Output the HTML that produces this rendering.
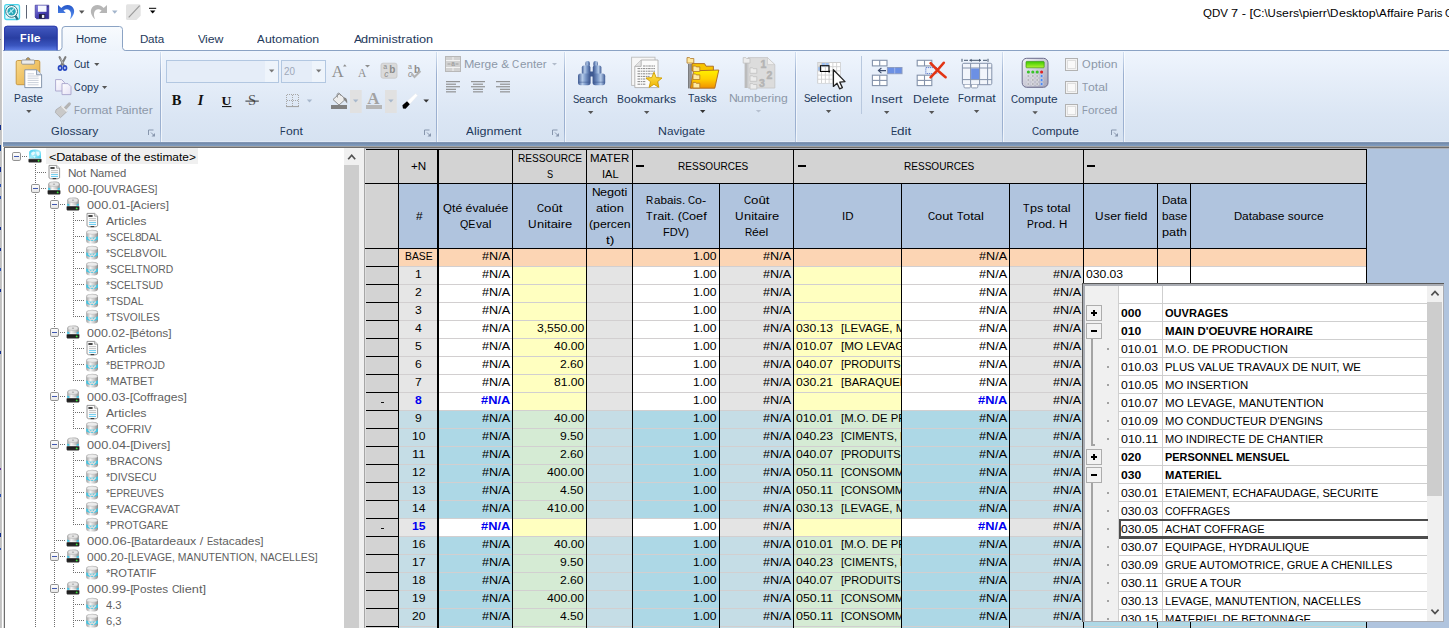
<!DOCTYPE html><html><head><meta charset="utf-8"><title>QDV 7</title><style>
*{box-sizing:border-box;margin:0;padding:0}
html,body{width:1449px;height:628px;overflow:hidden;background:#fff}
body{font-family:"Liberation Sans",sans-serif;position:relative;color:#1e395b}
.a{position:absolute}
.t{position:absolute;white-space:pre;line-height:1;font-size:11.7px;color:#1e395b}
i{position:absolute;top:0;font-style:normal;transform-origin:0 50%;white-space:pre}
.g{display:inline-block;position:relative;vertical-align:top;text-align:left}
.dis{color:#8d98a8}
.c{position:absolute;overflow:hidden;white-space:pre;font-size:11.7px;color:#000;line-height:16px;height:18px}
.r{text-align:right;padding-right:2.1px}
.l{text-align:left;padding-left:3.2px}
.m{text-align:center;padding-left:1px}
.hb,.hg{position:absolute;color:#000;font-size:11.7px;text-align:center;line-height:16px;display:flex;flex-direction:column;align-items:center;justify-content:center;white-space:nowrap;padding-left:1.8px}
.hb{background:#b0c4de}.hg{background:#d3d3d3}
.vl{position:absolute;background:#000;width:1px}
.hl{position:absolute;background:#000;height:1px}
.bb{font-weight:bold;color:#0000f0}
.pc{position:absolute;white-space:pre;font-size:11.7px;line-height:18px;height:18px;color:#000;overflow:hidden}
</style></head><body>
<div class="a" style="left:0;top:0;width:1.8px;height:628px;background:linear-gradient(90deg,#c0c0c0,#cacaca)"></div>
<div class="a" style="left:0;top:38.5px;width:1.1px;height:1.2px;background:#8c8c8c"></div>
<div class="a" style="left:0;top:125px;width:1.1px;height:5px;background:#102c8c"></div>
<div class="a" style="left:0;top:144.5px;width:1.1px;height:6px;background:#0c3c8c"></div>
<div class="a" style="left:0;top:166.5px;width:1.1px;height:5px;background:#102c8c"></div>
<div class="a" style="left:0;top:184px;width:1.1px;height:3px;background:#2a50b0"></div>
<div class="a" style="left:0;top:196px;width:1.1px;height:3px;background:#2a50b0"></div>
<div class="a" style="left:0;top:227px;width:1.1px;height:3px;background:#102c8c"></div>
<div class="a" style="left:0;top:248px;width:1.1px;height:3px;background:#102c8c"></div>
<div class="a" style="left:0;top:268px;width:1.1px;height:3px;background:#2a50b0"></div>
<div class="a" style="left:0;top:289px;width:1.1px;height:3px;background:#102c8c"></div>
<div class="a" style="left:0;top:351px;width:1.1px;height:3px;background:#102c8c"></div>
<div class="a" style="left:0;top:468px;width:1.1px;height:2px;background:#6030a0"></div>
<div class="a" style="left:0;top:494px;width:1.1px;height:3px;background:#2a50b0"></div>
<div class="a" style="left:0;top:533px;width:1.1px;height:4px;background:#102c8c"></div>
<div class="a" style="left:0;top:548px;width:1.1px;height:2px;background:#2a50b0"></div>
<div class="t " style="left:1203.0px;top:6.8px;color:#000"><i style="left:0.00px;transform:scaleX(0.986)">QDV </i><i style="left:28.20px;transform:scaleX(1.093)">7 - [</i><i style="left:50.22px;transform:scaleX(0.976)">C:\U</i><i style="left:73.06px;transform:scaleX(1.045)">sers\pierr\</i><i style="left:127.39px;transform:scaleX(0.996)">D</i><i style="left:135.80px;transform:scaleX(1.062)">esktop\</i><i style="left:175.85px;transform:scaleX(0.992)">A</i><i style="left:183.59px;transform:scaleX(1.042)">ffaire </i><i style="left:213.85px;transform:scaleX(0.861)">P</i><i style="left:220.57px;transform:scaleX(0.976)">aris </i><i style="left:242.14px;transform:scaleX(0.879)">C</i></div>
<div class="a" style="left:3px;top:50px;width:1446px;height:1px;background:#8ba3c4"></div>
<svg class="a" style="left:0;top:20px" width="140" height="34" viewBox="0 20 140 34"><defs>
<linearGradient id="gfile" x1="0" y1="0" x2="0" y2="1"><stop offset="0" stop-color="#5067cc"/><stop offset=".12" stop-color="#3d53ba"/><stop offset=".5" stop-color="#293ea2"/><stop offset=".8" stop-color="#3a55bf"/><stop offset="1" stop-color="#5d7ce6"/></linearGradient>
<linearGradient id="ghome" x1="0" y1="0" x2="0" y2="1"><stop offset="0" stop-color="#f8fbfe"/><stop offset="1" stop-color="#edf3fb"/></linearGradient></defs>
<path d="M4,50.3V29Q4,25.8 7.2,25.8H54.4Q57.6,25.8 57.6,29V50.3z" fill="url(#gfile)"/><path d="M4.5,50.3V29Q4.5,26.3 7.3,26.3H54.3Q57.1,26.3 57.1,29V50.3" fill="none" stroke="#2a38a8" stroke-width=".9"/>
<path d="M59,50.5Q61.6,50.5 62,47.5V29.5Q62,26.5 65,26.5H119.5Q122.5,26.5 122.5,29.5V47.5Q122.9,50.5 125.5,50.5V52H59z" fill="url(#ghome)"/>
<path d="M59,50.5Q61.6,50.5 62,47.5V29.5Q62,26.5 65,26.5H119.5Q122.5,26.5 122.5,29.5V47.5Q122.9,50.5 125.5,50.5" fill="none" stroke="#8ba3c4"/>
</svg>
<div class="t " style="left:20.1px;top:32.8px;font-size:11.3px;font-weight:bold;color:#fff"><i style="left:0.00px;transform:scaleX(0.955)">F</i><i style="left:6.59px;transform:scaleX(1.083)">ile</i></div>
<div class="t " style="left:75.7px;top:32.8px;"><i style="left:0.00px;transform:scaleX(0.966)">H</i><i style="left:8.16px;transform:scaleX(0.995)">ome</i></div>
<div class="t " style="left:139.9px;top:32.8px;"><i style="left:0.00px;transform:scaleX(0.992)">D</i><i style="left:8.38px;transform:scaleX(0.997)">ata</i></div>
<div class="t " style="left:197.5px;top:32.8px;"><i style="left:0.00px;transform:scaleX(0.989)">V</i><i style="left:7.71px;transform:scaleX(1.053)">iew</i></div>
<div class="t " style="left:256.9px;top:32.8px;"><i style="left:0.00px;transform:scaleX(0.976)">A</i><i style="left:7.62px;transform:scaleX(1.056)">utomation</i></div>
<div class="t " style="left:353.5px;top:32.8px;"><i style="left:0.00px;transform:scaleX(1.020)">A</i><i style="left:7.96px;transform:scaleX(1.089)">dministration</i></div>
<div class="a" style="left:3px;top:51px;width:1446px;height:91px;background:linear-gradient(#eff5fd,#e6eef9 30%,#dbe6f4 70%,#d6e2f1)"></div>
<div class="a" style="left:3px;top:141px;width:1446px;height:1px;background:#e1eaf6"></div>
<div class="a" style="left:3px;top:142px;width:1446px;height:4.2px;background:linear-gradient(#8a9fbe,#7389a8 30%,#7a94b6 60%,#819ec2)"></div>
<div class="a" style="left:3px;top:146px;width:1446px;height:1px;background:#a2a2a2"></div>
<div class="a" style="left:4px;top:147px;width:1445px;height:1px;background:#6e6e6e"></div>
<div class="a" style="left:160px;top:52px;width:1px;height:90px;background:linear-gradient(#d3e0f1,#9bb0d0 25%,#9bb0d0 85%,#b4c6df)"></div>
<div class="a" style="left:161px;top:52px;width:1px;height:90px;background:rgba(255,255,255,.6)"></div>
<div class="a" style="left:436px;top:52px;width:1px;height:90px;background:linear-gradient(#d3e0f1,#9bb0d0 25%,#9bb0d0 85%,#b4c6df)"></div>
<div class="a" style="left:437px;top:52px;width:1px;height:90px;background:rgba(255,255,255,.6)"></div>
<div class="a" style="left:564px;top:52px;width:1px;height:90px;background:linear-gradient(#d3e0f1,#9bb0d0 25%,#9bb0d0 85%,#b4c6df)"></div>
<div class="a" style="left:565px;top:52px;width:1px;height:90px;background:rgba(255,255,255,.6)"></div>
<div class="a" style="left:795px;top:52px;width:1px;height:90px;background:linear-gradient(#d3e0f1,#9bb0d0 25%,#9bb0d0 85%,#b4c6df)"></div>
<div class="a" style="left:796px;top:52px;width:1px;height:90px;background:rgba(255,255,255,.6)"></div>
<div class="a" style="left:1002px;top:52px;width:1px;height:90px;background:linear-gradient(#d3e0f1,#9bb0d0 25%,#9bb0d0 85%,#b4c6df)"></div>
<div class="a" style="left:1003px;top:52px;width:1px;height:90px;background:rgba(255,255,255,.6)"></div>
<div class="a" style="left:1123px;top:52px;width:1px;height:90px;background:linear-gradient(#d3e0f1,#9bb0d0 25%,#9bb0d0 85%,#b4c6df)"></div>
<div class="a" style="left:1124px;top:52px;width:1px;height:90px;background:rgba(255,255,255,.6)"></div>
<div class="a" style="left:861px;top:56px;width:1px;height:58px;background:#b8c8de"></div>
<div class="t " style="left:50.8px;top:125.3px;"><i style="left:0.00px;transform:scaleX(0.959)">G</i><i style="left:8.73px;transform:scaleX(1.035)">lossary</i></div>
<div class="t " style="left:280.4px;top:125.3px;"><i style="left:0.00px;transform:scaleX(0.776)">F</i><i style="left:5.55px;transform:scaleX(1.042)">ont</i></div>
<div class="t " style="left:465.9px;top:125.3px;"><i style="left:0.00px;transform:scaleX(1.001)">A</i><i style="left:7.82px;transform:scaleX(1.076)">lignment</i></div>
<div class="t " style="left:658.1px;top:125.3px;"><i style="left:0.00px;transform:scaleX(1.057)">N</i><i style="left:8.93px;transform:scaleX(1.009)">avigate</i></div>
<div class="t " style="left:890.9px;top:125.3px;"><i style="left:0.00px;transform:scaleX(0.794)">E</i><i style="left:6.19px;transform:scaleX(1.158)">dit</i></div>
<div class="t " style="left:1031.9px;top:125.3px;"><i style="left:0.00px;transform:scaleX(0.842)">C</i><i style="left:7.11px;transform:scaleX(1.020)">ompute</i></div>
<div class="t " style="left:14.1px;top:91.7px;"><i style="left:0.00px;transform:scaleX(0.878)">P</i><i style="left:6.85px;transform:scaleX(0.993)">aste</i></div>
<div class="t " style="left:74.0px;top:58.3px;"><i style="left:0.00px;transform:scaleX(0.764)">C</i><i style="left:6.46px;transform:scaleX(0.968)">ut</i></div>
<div class="t " style="left:74.0px;top:81.3px;"><i style="left:0.00px;transform:scaleX(0.779)">C</i><i style="left:6.58px;transform:scaleX(0.934)">opy</i></div>
<div class="t dis" style="left:74.0px;top:104.3px;"><i style="left:0.00px;transform:scaleX(0.833)">F</i><i style="left:5.95px;transform:scaleX(1.073)">ormat </i><i style="left:41.54px;transform:scaleX(0.875)">P</i><i style="left:48.37px;transform:scaleX(1.053)">ainter</i></div>
<div class="t dis" style="left:463.5px;top:58.3px;"><i style="left:0.00px;transform:scaleX(1.065)">M</i><i style="left:10.38px;transform:scaleX(1.020)">erge &amp; </i><i style="left:48.87px;transform:scaleX(0.847)">C</i><i style="left:56.03px;transform:scaleX(0.996)">enter</i></div>
<div class="t " style="left:572.5px;top:93.0px;"><i style="left:0.00px;transform:scaleX(0.810)">S</i><i style="left:6.32px;transform:scaleX(0.980)">earch</i></div>
<div class="t " style="left:617.3px;top:93.0px;"><i style="left:0.00px;transform:scaleX(0.887)">B</i><i style="left:6.93px;transform:scaleX(1.027)">ookmarks</i></div>
<div class="t " style="left:687.9px;top:92.3px;"><i style="left:0.00px;transform:scaleX(0.897)">T</i><i style="left:6.41px;transform:scaleX(0.943)">asks</i></div>
<div class="t dis" style="left:728.5px;top:92.3px;"><i style="left:0.00px;transform:scaleX(1.051)">N</i><i style="left:8.88px;transform:scaleX(1.042)">umbering</i></div>
<div class="t " style="left:803.8px;top:92.3px;"><i style="left:0.00px;transform:scaleX(0.831)">S</i><i style="left:6.48px;transform:scaleX(1.054)">election</i></div>
<div class="t " style="left:871.4px;top:93.0px;"><i style="left:0.00px;transform:scaleX(1.025)">I</i><i style="left:3.33px;transform:scaleX(1.060)">nsert</i></div>
<div class="t " style="left:912.7px;top:93.0px;"><i style="left:0.00px;transform:scaleX(1.048)">D</i><i style="left:8.85px;transform:scaleX(1.070)">elete</i></div>
<div class="t " style="left:957.8px;top:92.3px;"><i style="left:0.00px;transform:scaleX(0.822)">F</i><i style="left:5.88px;transform:scaleX(1.064)">ormat</i></div>
<div class="t " style="left:1011.0px;top:93.0px;"><i style="left:0.00px;transform:scaleX(0.840)">C</i><i style="left:7.10px;transform:scaleX(1.017)">ompute</i></div>
<div class="t dis" style="left:1081.9px;top:58.3px;"><i style="left:0.00px;transform:scaleX(0.946)">O</i><i style="left:8.61px;transform:scaleX(1.044)">ption</i></div>
<div class="t dis" style="left:1081.9px;top:81.3px;"><i style="left:0.00px;transform:scaleX(0.863)">T</i><i style="left:6.17px;transform:scaleX(1.046)">otal</i></div>
<div class="t dis" style="left:1081.9px;top:104.3px;"><i style="left:0.00px;transform:scaleX(0.800)">F</i><i style="left:5.72px;transform:scaleX(1.004)">orced</i></div>
<svg class="a" style="left:0;top:0" width="1449" height="148" viewBox="0 0 1449 148">
<defs>
<linearGradient id="gsave" x1="0" y1="0" x2="1" y2="1"><stop offset="0" stop-color="#8680e0"/><stop offset=".5" stop-color="#4a42b4"/><stop offset="1" stop-color="#2e2890"/></linearGradient>
<linearGradient id="gundo" x1="0" y1="0" x2="0" y2="1"><stop offset="0" stop-color="#2456c8"/><stop offset="1" stop-color="#5e96f4"/></linearGradient>
<linearGradient id="gboard" x1="0" y1="0" x2="1" y2="1"><stop offset="0" stop-color="#f9d98a"/><stop offset="1" stop-color="#e6ae44"/></linearGradient>
<linearGradient id="gbino" x1="0" y1="0" x2="1" y2="0"><stop offset="0" stop-color="#405c94"/><stop offset=".35" stop-color="#b4cae8"/><stop offset=".6" stop-color="#7a98c8"/><stop offset="1" stop-color="#36508a"/></linearGradient>
<linearGradient id="gfold" x1="0" y1="0" x2="0" y2="1"><stop offset="0" stop-color="#fff200"/><stop offset=".5" stop-color="#ffd000"/><stop offset="1" stop-color="#f09000"/></linearGradient>
<linearGradient id="gstar" x1="0" y1="0" x2="0" y2="1"><stop offset="0" stop-color="#ffe858"/><stop offset="1" stop-color="#f0b400"/></linearGradient>
<linearGradient id="gcalc" x1="0" y1="0" x2="1" y2="1"><stop offset="0" stop-color="#f4f4f8"/><stop offset="1" stop-color="#a4a4b8"/></linearGradient>
<linearGradient id="ggreen" x1="0" y1="0" x2="0" y2="1"><stop offset="0" stop-color="#38c800"/><stop offset="1" stop-color="#b4f430"/></linearGradient>
<linearGradient id="gbar" x1="0" y1="0" x2="1" y2="0"><stop offset="0" stop-color="#505050"/><stop offset=".5" stop-color="#b0b0b0"/><stop offset="1" stop-color="#606060"/></linearGradient>
<linearGradient id="gpage" x1="0" y1="0" x2="1" y2="1"><stop offset="0" stop-color="#ffffff"/><stop offset="1" stop-color="#e4e0f4"/></linearGradient>
</defs>
<rect x="4.7" y="4.7" width="14.8" height="14.8" rx="2" fill="#dff7fb" stroke="#48d4ea" stroke-width="1.3"/>
<path d="M15.5,15.8L17.6,19.6" stroke="#2a7484" stroke-width="2.2"/>
<circle cx="11.6" cy="11.4" r="5.9" fill="#fff" stroke="#2a7484" stroke-width="1"/>
<circle cx="11.6" cy="11.4" r="4.2" fill="#27a6b6"/>
<path d="M8.5,13.5L14,8.5M10,9.5l3,4" stroke="#b8eef4" stroke-width="1.1" fill="none"/>
<rect x="26" y="5" width="1" height="13.6" fill="#5c6474"/>
<path d="M35.2,5.2H48.8V18.7H36.6L35.2,17.3z" fill="url(#gsave)" stroke="#2a2488" stroke-width=".6"/>
<rect x="37.9" y="5.6" width="8.6" height="6.2" fill="#f6f8ff"/>
<rect x="39" y="14.1" width="6.2" height="4.5" fill="#1c1c3c"/>
<rect x="41.9" y="14.9" width="2.4" height="3" fill="#f0f0f8"/>
<rect x="47.4" y="6.3" width=".9" height=".9" fill="#1c1c3c"/>
<path d="M58,4.9V13H65.8L63.4,10.6C66,8.4 69.6,8.9 70.7,12.2C71.4,14.6 70.9,17 69.9,19.3C73.2,16.2 75,12.2 73.7,8.9C71.9,4.3 65.2,3.2 61.3,8.1z" fill="url(#gundo)"/>
<path d="M58,4.9V13H65.8L63.4,10.6C66,8.4 69.6,8.9 70.7,12.2C71.4,14.6 70.9,17 69.9,19.3C73.2,16.2 75,12.2 73.7,8.9C71.9,4.3 65.2,3.2 61.3,8.1z" fill="#b6b6b6" transform="translate(165,0) scale(-1,1)"/>
<path d="M79,10.6h5.5l-2.75,3.2z" fill="#555"/>
<path d="M112,10.6h5.5l-2.75,3.2z" fill="#a3b5cc"/>
<path d="M127.5,4.3H139.2Q140.7,4.3 140.7,5.8V15.8L136.4,20H127.5Q126,20 126,18.5V5.8Q126,4.3 127.5,4.3z" fill="#e3e3e3"/>
<path d="M128.7,17.3L139.7,5.6" stroke="#9a9a9a" stroke-width="1.2"/>
<rect x="149" y="7.8" width="7.2" height="1" fill="#000"/>
<path d="M150,10.6h5.4l-2.7,3z" fill="#000"/>
<rect x="16.2" y="60.5" width="23.6" height="24.2" rx="1.5" fill="url(#gboard)" stroke="#c4933a" stroke-width=".9"/>
<path d="M26.3,60.2a1.9,1.9 0 1 1 3.6,0" fill="#c9a050" stroke="#6e6e6e" stroke-width=".8"/>
<rect x="21.6" y="60" width="13" height="4.2" rx="1" fill="#ececec" stroke="#8c8c8c" stroke-width=".8"/>
<path d="M24.8,69.8H36.6L41.6,74.8V87.6H24.8z" fill="#fff" stroke="#7c8ca4" stroke-width=".9"/>
<path d="M36.6,69.8V74.8H41.6" fill="#e2e8f2" stroke="#7c8ca4" stroke-width=".9"/>
<path d="M27.6,73.8H34M27.6,76h11M27.6,78.2h11M27.6,80.4h11M27.6,82.6h11M27.6,84.8h11" stroke="#bcc4d0" stroke-width=".8"/>
<path d="M26.2,110h5.4l-2.7,3z" fill="#555"/>
<path d="M59.6,57.2L64.4,66.6M65.4,57.2L60.6,66.6" stroke="#7e7e7e" stroke-width="2.1" stroke-linecap="round"/>
<path d="M60.6,58.6L63.2,63.6" stroke="#d8d8d8" stroke-width=".7"/>
<ellipse cx="60.1" cy="68" rx="1.6" ry="2.2" fill="#dfe6fa" stroke="#2848c0" stroke-width="1.7"/>
<ellipse cx="64.9" cy="68" rx="1.6" ry="2.2" fill="#dfe6fa" stroke="#2848c0" stroke-width="1.7"/>
<path d="M94.2,63h5.2l-2.6,3z" fill="#555"/>
<path d="M55.6,79.6H61.6L64.6,82.6V91H55.6z" fill="url(#gpage)" stroke="#a8a4cc" stroke-width=".9"/>
<path d="M62,83.6H68L71,86.6V94.6H62z" fill="url(#gpage)" stroke="#a8a4cc" stroke-width=".9"/>
<path d="M102,86h5.2l-2.6,3z" fill="#555"/>
<path d="M69.3,104L65.2,108.3" stroke="#b4b4b4" stroke-width="3.2" stroke-linecap="round"/>
<path d="M56,109.8L61.5,106L67,111.5L60.5,117.6L55.4,112.6z" fill="#c9c9c9" stroke="#a8a8a8" stroke-width=".8"/>
<path d="M61.5,106L67,111.5" stroke="#eee" stroke-width="1.2"/>
<path d="M148.5,135.0V130.0H153.5" fill="none" stroke="#8796ad"/><path d="M151,132.5l3,3" stroke="#8796ad" fill="none"/><path d="M155,133.0V136.5H151.5z" fill="#8796ad"/>
<rect x="166.5" y="60.5" width="112" height="22" fill="#e5edf8" stroke="#b2c7e1"/>
<rect x="265" y="61" width="13" height="21" fill="#eef4fb"/>
<path d="M269,69.5h5.4l-2.7,3z" fill="#787878"/>
<rect x="281.5" y="60.5" width="44" height="22" fill="#e5edf8" stroke="#b2c7e1"/>
<rect x="312" y="61" width="13" height="21" fill="#eef4fb"/>
<path d="M316,69.5h5.4l-2.7,3z" fill="#787878"/>
<g font-family="Liberation Serif" fill="#8e8e8e"><text x="331.8" y="77" font-size="16.5">A</text><text x="358" y="77" font-size="11.5">A</text></g>
<path d="M343,66.6h3.6l-1.8,-2.4z" fill="#8e8e8e"/>
<path d="M365,65h5l-2.5,2.4z" fill="#8e8e8e"/>
<rect x="381" y="63.2" width="16" height="15" rx="2" fill="#dadada" stroke="#c6c6c6" stroke-width=".8"/>
<g font-family="Liberation Sans" fill="#8a8a8a"><text x="383.3" y="69.3" font-size="7">a</text><text x="384.3" y="77" font-size="8.5" font-style="italic">c</text><text x="389.3" y="73" font-size="10" font-weight="bold">b</text><text x="408" y="69.3" font-size="7">a</text><text x="408" y="77" font-size="8.5" font-style="italic">c</text><text x="414" y="73" font-size="10" font-weight="bold">b</text></g>
<path d="M411.5,73.5l3,3.5l6,-6" fill="none" stroke="#b4b4b4" stroke-width="2"/>
<g font-family="Liberation Serif" font-weight="bold" fill="#111" font-size="14.5"><text x="171.8" y="105">B</text><text x="197.8" y="105" font-style="italic">I</text><text x="221.6" y="105" font-size="13.5">U</text><text x="248" y="105.3" font-weight="normal" fill="#555">S</text></g>
<rect x="222" y="106" width="9.4" height="1.1" fill="#111"/>
<rect x="245.4" y="100.6" width="13.4" height="1" fill="#333"/>
<path d="M286.5,94.5h12M286.5,100h12M286.5,94.5v11M292.5,94.5v11M298.5,94.5v11" stroke="#a8a8a8" stroke-dasharray="1,1" fill="none" shape-rendering="crispEdges"/>
<rect x="286" y="106" width="13" height="1.1" fill="#a4a4a4"/>
<path d="M306.8,99.5h5.4l-2.7,3z" fill="#a8b8cc"/>
<path d="M333,99.5L339.5,93.6L345.5,99.2L339,105z" fill="#ededed" stroke="#858585" stroke-width=".9"/>
<path d="M337.5,97.5C336,93 339,91.5 340.5,95.5" fill="none" stroke="#858585" stroke-width=".9"/>
<path d="M343.5,97.5C346.5,97 347.6,100 347.2,103.5C345.5,102 345.5,100 343.5,99.5z" fill="#858585"/>
<rect x="331" y="105" width="16" height="4" fill="#808080"/>
<rect x="350" y="90" width="11.7" height="23" fill="#e1e1e1"/>
<path d="M353,99.5h5.4l-2.7,3z" fill="#a8b8cc"/>
<text x="367.2" y="104.3" font-family="Liberation Serif" font-weight="bold" font-size="17" fill="#a2a2a2">A</text>
<rect x="366" y="105" width="16" height="4" fill="#b6b6b6"/>
<rect x="385" y="90" width="11.8" height="23" fill="#e1e1e1"/>
<path d="M388.2,99.5h5.4l-2.7,3z" fill="#a8b8cc"/>
<path d="M407,101.3L415.6,93.3L417.8,95.6L409.8,104.2z" fill="#fff" stroke="#e4e8ee" stroke-width=".6"/>
<path d="M402.4,105.2L407,101.3L409.8,104.2L405.6,108.8L403,108.4z" fill="#000"/>
<path d="M423.4,99.5h5.6l-2.8,3z" fill="#333"/>
<path d="M424.5,135.0V130.0H429.5" fill="none" stroke="#8796ad"/><path d="M427,132.5l3,3" stroke="#8796ad" fill="none"/><path d="M431,133.0V136.5H427.5z" fill="#8796ad"/>
<rect x="445.5" y="56.5" width="15" height="15" fill="#d2d2d2" stroke="#b8b8b8"/>
<path d="M446,60.5h14M446,67.5h14M453,57v3.5M453,67.5v3.5" stroke="#f2f2f2" stroke-width="1"/>
<path d="M447.5,64h3M455.5,64h3" stroke="#a0a0a0" stroke-width="1"/><text x="451.3" y="66.3" font-size="6.5" font-family="Liberation Sans" font-weight="bold" fill="#a0a0a0">a</text>
<path d="M552,63h5l-2.5,2.6z" fill="#b2bccb"/>
<rect x="446" y="81.10" width="14" height="1.1" fill="#8a8a8a"/>
<rect x="446" y="83.65" width="10" height="1.1" fill="#8a8a8a"/>
<rect x="446" y="86.20" width="14" height="1.1" fill="#8a8a8a"/>
<rect x="446" y="88.75" width="10" height="1.1" fill="#8a8a8a"/>
<rect x="446" y="91.30" width="10" height="1.1" fill="#8a8a8a"/>
<rect x="471.0" y="81.10" width="14" height="1.1" fill="#8a8a8a"/>
<rect x="473.0" y="83.65" width="10" height="1.1" fill="#8a8a8a"/>
<rect x="471.0" y="86.20" width="14" height="1.1" fill="#8a8a8a"/>
<rect x="473.0" y="88.75" width="10" height="1.1" fill="#8a8a8a"/>
<rect x="473.0" y="91.30" width="10" height="1.1" fill="#8a8a8a"/>
<rect x="496" y="81.10" width="14" height="1.1" fill="#8a8a8a"/>
<rect x="500" y="83.65" width="10" height="1.1" fill="#8a8a8a"/>
<rect x="496" y="86.20" width="14" height="1.1" fill="#8a8a8a"/>
<rect x="500" y="88.75" width="10" height="1.1" fill="#8a8a8a"/>
<rect x="500" y="91.30" width="10" height="1.1" fill="#8a8a8a"/>
<path d="M552.5,135.0V130.0H557.5" fill="none" stroke="#8796ad"/><path d="M555,132.5l3,3" stroke="#8796ad" fill="none"/><path d="M559,133.0V136.5H555.5z" fill="#8796ad"/>
<rect x="589" y="71.5" width="5.5" height="5" fill="#405c94"/>
<g><rect x="585.4" y="61" width="4.4" height="6" rx="2" fill="url(#gbino)"/><rect x="581.8" y="65.6" width="8.6" height="9.5" rx="2" fill="url(#gbino)"/><rect x="578" y="73.6" width="12.6" height="11.6" rx="2.6" fill="url(#gbino)"/><path d="M578.6,82.2h11.4" stroke="#36508a" stroke-width=".8" opacity=".6"/></g>
<g transform="translate(1183.2,0) scale(-1,1)"><rect x="585.4" y="61" width="4.4" height="6" rx="2" fill="url(#gbino)"/><rect x="581.8" y="65.6" width="8.6" height="9.5" rx="2" fill="url(#gbino)"/><rect x="578" y="73.6" width="12.6" height="11.6" rx="2.6" fill="url(#gbino)"/><path d="M578.6,82.2h11.4" stroke="#36508a" stroke-width=".8" opacity=".6"/></g>
<path d="M588,111h5.4l-2.7,3z" fill="#555"/>
<rect x="631.6" y="57.2" width="23.4" height="28.2" fill="#f6f6f6" stroke="#bdbdbd" stroke-width=".9"/>
<path d="M641.2,60H658V87.6H634.8V66.4z" fill="#fbfbfb" stroke="#b0b0b0" stroke-width=".9"/>
<path d="M634.8,66.4H641.2V60" fill="#e2e2e2" stroke="#b0b0b0" stroke-width=".9"/>
<path d="M643,66h12M637.5,68.6h17.5M637.5,71.2h17.5M637.5,73.8h17.5M637.5,76.4h12M637.5,79h9M637.5,81.6h8M637.5,84.2h8" stroke="#6c6c6c" stroke-width=".8" stroke-dasharray="2.5,.7,1.5,.6"/>
<polygon points="654.0,72.2 656.2,77.6 662.0,78.0 657.5,81.7 658.9,87.4 654.0,84.3 649.1,87.4 650.5,81.7 646.0,78.0 651.8,77.6" fill="url(#gstar)" stroke="#cf9c00" stroke-width=".9" stroke-linejoin="round"/>
<path d="M644,111h5.4l-2.7,3z" fill="#555"/>
<rect x="688.2" y="64" width="3.4" height="24.4" fill="url(#gbar)"/>
<path d="M692,71V63.6H704.6L706,66.2H713.4V71z" fill="#f8c400" stroke="#a86820" stroke-width=".9"/>
<path d="M693.6,70.8L718.8,70L714.8,88.2H690.4z" fill="url(#gfold)" stroke="#a86820" stroke-width=".9"/>
<path d="M687,57.6h2.6l.8,.9h3.4v4.6h-6.8z" fill="#ffe9a0" stroke="#b07828" stroke-width=".8"/>
<path d="M693,66h2.6l.8,.9h3.4v4.6h-6.8z" fill="#ffe9a0" stroke="#b07828" stroke-width=".8"/>
<path d="M693,74h2.6l.8,.9h3.4v4.6h-6.8z" fill="#ffe9a0" stroke="#b07828" stroke-width=".8"/>
<path d="M693,82.4h2.6l.8,.9h3.4v4.6h-6.8z" fill="#ffe9a0" stroke="#b07828" stroke-width=".8"/>
<path d="M700,110h5.4l-2.7,3z" fill="#333"/>
<path d="M748,57.6H767.5L774.8,64.6V88H748z" fill="#dcdcdc" stroke="#c4c4c4" stroke-width=".8"/>
<path d="M767.5,57.6V64.6H774.8z" fill="#efefef" stroke="#c4c4c4" stroke-width=".6"/>
<rect x="744.6" y="63" width="3" height="25" fill="#bcbcbc"/>
<path d="M743.2,57.6h2.6l.8,.9h3.4v4.6h-6.8z" fill="#ececec" stroke="#c0c0c0" stroke-width=".8"/>
<path d="M750,67.8h2.6l.8,.9h3.4v4.6h-6.8z" fill="#ececec" stroke="#c0c0c0" stroke-width=".8"/>
<path d="M750,75.8h2.6l.8,.9h3.4v4.6h-6.8z" fill="#ececec" stroke="#c0c0c0" stroke-width=".8"/>
<path d="M750,83.6h2.6l.8,.9h3.4v4.6h-6.8z" fill="#ececec" stroke="#c0c0c0" stroke-width=".8"/>
<g font-family="Liberation Sans" font-weight="bold" fill="#b4b4b4" stroke="#b4b4b4" stroke-width=".5"><text x="760.5" y="67.5" font-size="10.5">1</text><text x="766.6" y="78.5" font-size="10.5">2</text><text x="759" y="86.8" font-size="10.5">3</text></g>
<path d="M755.8,110h5.4l-2.7,2.6z" fill="#b6c0d0"/>
<rect x="817.2" y="62" width="23.6" height="21.6" fill="#cfcfcf"/>
<rect x="818.20" y="63.00" width="2.9" height="3.3" fill="#e4e4e4"/>
<rect x="821.98" y="63.00" width="2.9" height="3.3" fill="#9cc0f4"/>
<rect x="825.76" y="63.00" width="2.9" height="3.3" fill="#9cc0f4"/>
<rect x="829.54" y="63.00" width="2.9" height="3.3" fill="#fff"/>
<rect x="833.32" y="63.00" width="2.9" height="3.3" fill="#fff"/>
<rect x="837.10" y="63.00" width="2.9" height="3.3" fill="#fff"/>
<rect x="818.20" y="67.16" width="2.9" height="3.3" fill="#9cc0f4"/>
<rect x="821.98" y="67.16" width="2.9" height="3.3" fill="#fff"/>
<rect x="825.76" y="67.16" width="2.9" height="3.3" fill="#fff"/>
<rect x="829.54" y="67.16" width="2.9" height="3.3" fill="#fff"/>
<rect x="833.32" y="67.16" width="2.9" height="3.3" fill="#fff"/>
<rect x="837.10" y="67.16" width="2.9" height="3.3" fill="#fff"/>
<rect x="818.20" y="71.32" width="2.9" height="3.3" fill="#fff"/>
<rect x="821.98" y="71.32" width="2.9" height="3.3" fill="#fff"/>
<rect x="825.76" y="71.32" width="2.9" height="3.3" fill="#fff"/>
<rect x="829.54" y="71.32" width="2.9" height="3.3" fill="#fff"/>
<rect x="833.32" y="71.32" width="2.9" height="3.3" fill="#fff"/>
<rect x="837.10" y="71.32" width="2.9" height="3.3" fill="#fff"/>
<rect x="818.20" y="75.48" width="2.9" height="3.3" fill="#fff"/>
<rect x="821.98" y="75.48" width="2.9" height="3.3" fill="#fff"/>
<rect x="825.76" y="75.48" width="2.9" height="3.3" fill="#fff"/>
<rect x="829.54" y="75.48" width="2.9" height="3.3" fill="#fff"/>
<rect x="833.32" y="75.48" width="2.9" height="3.3" fill="#fff"/>
<rect x="837.10" y="75.48" width="2.9" height="3.3" fill="#fff"/>
<rect x="818.20" y="79.64" width="2.9" height="3.3" fill="#fff"/>
<rect x="821.98" y="79.64" width="2.9" height="3.3" fill="#fff"/>
<rect x="825.76" y="79.64" width="2.9" height="3.3" fill="#fff"/>
<rect x="829.54" y="79.64" width="2.9" height="3.3" fill="#fff"/>
<rect x="833.32" y="79.64" width="2.9" height="3.3" fill="#fff"/>
<rect x="837.10" y="79.64" width="2.9" height="3.3" fill="#fff"/>
<rect x="820.4" y="65.7" width="8.6" height="5.8" fill="none" stroke="#000" stroke-width="1"/>
<rect x="828.4" y="70.8" width="1.6" height="1.6" fill="#000"/>
<path d="M833.4,69.8V86.4L837,83.2L839.6,88.8L842.4,87.6L839.8,82.2L845,81.6z" fill="#fff" stroke="#222" stroke-width="1.3" stroke-linejoin="round"/>
<path d="M825.9,110h5.4l-2.7,3z" fill="#555"/>
<rect x="872.4" y="60.3" width="14.6" height="5.6" fill="#fff" stroke="#8492aa" stroke-width="1.1"/><path d="M879.6999999999999,60.3v5.6" stroke="#8492aa" stroke-width="1.1"/>
<rect x="872.4" y="75.2" width="14.6" height="10.4" fill="#fff" stroke="#8492aa" stroke-width="1.1"/><path d="M879.6999999999999,75.2v10.4" stroke="#8492aa" stroke-width="1.1"/><path d="M872.4,80.4h14.6" stroke="#8492aa" stroke-width="1.1"/>
<rect x="887.4" y="67.5" width="14.6" height="6.2" fill="#6c90e4" stroke="#8c9cc0" stroke-width="1"/><path d="M894.7,67.5v6.2" stroke="#a4b8e8" stroke-width="1"/>
<path d="M878.4,70.6H886M881.4,68l-3,2.6l3,2.6" fill="none" stroke="#3c4c6c" stroke-width="1.1"/>
<path d="M884,111h5.4l-2.7,3z" fill="#555"/>
<rect x="917.2" y="60.3" width="14.6" height="5.6" fill="#fff" stroke="#8492aa" stroke-width="1.1"/><path d="M924.5,60.3v5.6" stroke="#8492aa" stroke-width="1.1"/>
<rect x="917.2" y="75.2" width="14.6" height="10.4" fill="#fff" stroke="#8492aa" stroke-width="1.1"/><path d="M924.5,75.2v10.4" stroke="#8492aa" stroke-width="1.1"/><path d="M917.2,80.4h14.6" stroke="#8492aa" stroke-width="1.1"/>
<rect x="925.8" y="67.6" width="11" height="6" fill="none" stroke="#4060c0" stroke-width="1" stroke-dasharray="1,1"/>
<path d="M930.6,63.2C934,67 940,73 945.6,77.2M930.6,77.4C935,73 939.6,68 943.8,62.8" fill="none" stroke="#e23414" stroke-width="2.6" stroke-linecap="round"/>
<path d="M929,111h5.4l-2.7,3z" fill="#555"/>
<path d="M962,58.8v3M988,58.8v3M969.5,60.3H981M964,60.3h4M983,60.3h4" stroke="#44546c" stroke-width="1" stroke-dasharray="none"/>
<path d="M969.6,60.3l2,-1.6v3.2zM981,60.3l-2,-1.6v3.2z" fill="#44546c"/>
<rect x="962.4" y="63.3" width="29.4" height="21.4" rx="1.4" fill="#f2f5fb" stroke="#8492aa" stroke-width="1"/>
<path d="M970.6,63.3v21.4M979.6,63.3v21.4M987.6,63.3v21.4M962.4,68h29.4M962.4,79.6h29.4" stroke="#8492aa" stroke-width="1"/>
<rect x="971.1" y="68.5" width="8" height="10.6" fill="#6c90e4"/>
<path d="M964,84.7v2.2q0,1 1,1h4.4q1,0 1,-1v-2.2M971.4,84.7v2.2q0,1 1,1h4.4q1,0 1,-1v-2.2" fill="#fff" stroke="#8492aa" stroke-width=".9"/>
<path d="M973.9,110h5.4l-2.7,3z" fill="#555"/>
<rect x="1022.2" y="58.3" width="25.8" height="29" rx="4.5" fill="url(#gcalc)" stroke="#6c6c8c" stroke-width="1"/>
<rect x="1026" y="61.4" width="18.2" height="6.4" rx=".8" fill="url(#ggreen)" stroke="#2c8c00" stroke-width=".6"/>
<circle cx="1028.4" cy="72" r="1.55" fill="#38c428"/>
<circle cx="1028.4" cy="76" r="1.5" fill="#b4b4bc" stroke="#fff" stroke-width=".4"/>
<circle cx="1028.4" cy="80" r="1.5" fill="#b4b4bc" stroke="#fff" stroke-width=".4"/>
<circle cx="1028.4" cy="84" r="1.5" fill="#b4b4bc" stroke="#fff" stroke-width=".4"/>
<circle cx="1032.8" cy="72" r="1.55" fill="#38c428"/>
<circle cx="1032.8" cy="76" r="1.5" fill="#b4b4bc" stroke="#fff" stroke-width=".4"/>
<circle cx="1032.8" cy="80" r="1.5" fill="#b4b4bc" stroke="#fff" stroke-width=".4"/>
<circle cx="1032.8" cy="84" r="1.5" fill="#b4b4bc" stroke="#fff" stroke-width=".4"/>
<circle cx="1037.2" cy="72" r="1.55" fill="#38c428"/>
<circle cx="1037.2" cy="76" r="1.5" fill="#b4b4bc" stroke="#fff" stroke-width=".4"/>
<circle cx="1037.2" cy="80" r="1.5" fill="#b4b4bc" stroke="#fff" stroke-width=".4"/>
<circle cx="1037.2" cy="84" r="1.5" fill="#b4b4bc" stroke="#fff" stroke-width=".4"/>
<circle cx="1041.6" cy="72" r="1.55" fill="#e02020"/>
<circle cx="1041.6" cy="76" r="1.5" fill="#4c88f0" stroke="#fff" stroke-width=".4"/>
<circle cx="1041.6" cy="80" r="1.5" fill="#4c88f0" stroke="#fff" stroke-width=".4"/>
<circle cx="1041.6" cy="84" r="1.5" fill="#4c88f0" stroke="#fff" stroke-width=".4"/>
<path d="M1032.4,111.2h5.4l-2.7,3z" fill="#555"/>
<rect x="1065.5" y="58.5" width="12" height="12" fill="#f3f3f3" stroke="#b2b2b2"/>
<rect x="1067.5" y="60.5" width="8" height="8" fill="#f9f9f9" stroke="#dedede"/>
<rect x="1065.5" y="81.5" width="12" height="12" fill="#f3f3f3" stroke="#b2b2b2"/>
<rect x="1067.5" y="83.5" width="8" height="8" fill="#f9f9f9" stroke="#dedede"/>
<rect x="1065.5" y="104.5" width="12" height="12" fill="#f3f3f3" stroke="#b2b2b2"/>
<rect x="1067.5" y="106.5" width="8" height="8" fill="#f9f9f9" stroke="#dedede"/>
<path d="M1111.5,135.0V130.0H1116.5" fill="none" stroke="#8796ad"/><path d="M1114,132.5l3,3" stroke="#8796ad" fill="none"/><path d="M1118,133.0V136.5H1114.5z" fill="#8796ad"/>
</svg>
<div class="t " style="left:284.0px;top:64.5px;color:#9fa9b8"><i style="left:0.00px;transform:scaleX(0.845)">20</i></div>
<div class="a" style="left:3px;top:148px;width:1px;height:480px;background:#dcdcdc"></div>
<div class="a" style="left:4px;top:147px;width:340px;height:481px;background:#fff;border-left:1px solid #6e6e6e;border-top:1px solid #6e6e6e"></div>
<div class="a" style="left:344px;top:148px;width:18px;height:480px;background:#f0f0f0"></div>
<div class="a" style="left:344px;top:165px;width:15px;height:463px;background:#cdcdcd"></div>
<div class="a" style="left:362px;top:148px;width:4px;height:480px;background:#f0f0f0"></div>
<svg class="a" style="left:344px;top:148px" width="18" height="18" viewBox="0 0 18 18"><path d="M4.2,11.2L7.7,7.2L11.2,11.2" fill="none" stroke="#505050" stroke-width="1.7"/></svg>
<div class="a" style="left:364px;top:148px;width:1px;height:480px;background:#a6a6a6"></div>
<div class="a" style="left:46px;top:148px;width:152px;height:16px;background:#f0f0f0"></div>
<div class="t " style="left:48.5px;top:150.8px;color:#000"><i style="left:0.00px;transform:scaleX(1.080)">&lt;D</i><i style="left:16.50px;transform:scaleX(1.020)">atabase of the estimate&gt;</i></div>
<div class="t " style="left:67.5px;top:166.8px;color:#5f5f5f"><i style="left:0.00px;transform:scaleX(1.006)">N</i><i style="left:8.50px;transform:scaleX(1.047)">ot </i><i style="left:22.12px;transform:scaleX(1.006)">N</i><i style="left:30.62px;transform:scaleX(0.963)">amed</i></div>
<div class="t " style="left:67.5px;top:182.8px;color:#5f5f5f"><i style="left:0.00px;transform:scaleX(1.062)">000-[</i><i style="left:28.33px;transform:scaleX(0.884)">OUVRAGES]</i></div>
<div class="t " style="left:86.5px;top:198.8px;color:#5f5f5f"><i style="left:0.00px;transform:scaleX(1.089)">000.01-[</i><i style="left:46.76px;transform:scaleX(1.005)">A</i><i style="left:54.61px;transform:scaleX(1.001)">ciers]</i></div>
<div class="t " style="left:105.5px;top:214.8px;color:#5f5f5f"><i style="left:0.00px;transform:scaleX(1.046)">A</i><i style="left:8.16px;transform:scaleX(1.068)">rticles</i></div>
<div class="t " style="left:105.5px;top:230.8px;color:#5f5f5f"><i style="left:0.00px;transform:scaleX(0.829)">*SCEL</i><i style="left:29.11px;transform:scaleX(1.029)">8</i><i style="left:35.81px;transform:scaleX(0.913)">DAL</i></div>
<div class="t " style="left:105.5px;top:246.8px;color:#5f5f5f"><i style="left:0.00px;transform:scaleX(0.849)">*SCEL</i><i style="left:29.80px;transform:scaleX(1.054)">8</i><i style="left:36.66px;transform:scaleX(0.928)">VOIL</i></div>
<div class="t " style="left:105.5px;top:262.8px;color:#5f5f5f"><i style="left:0.00px;transform:scaleX(0.887)">*SCELTNORD</i></div>
<div class="t " style="left:105.5px;top:278.8px;color:#5f5f5f"><i style="left:0.00px;transform:scaleX(0.864)">*SCELTSUD</i></div>
<div class="t " style="left:105.5px;top:294.8px;color:#5f5f5f"><i style="left:0.00px;transform:scaleX(0.887)">*TSDAL</i></div>
<div class="t " style="left:105.5px;top:310.8px;color:#5f5f5f"><i style="left:0.00px;transform:scaleX(0.874)">*TSVOILES</i></div>
<div class="t " style="left:86.5px;top:326.8px;color:#5f5f5f"><i style="left:0.00px;transform:scaleX(1.070)">000.02-[</i><i style="left:45.92px;transform:scaleX(0.877)">B</i><i style="left:52.77px;transform:scaleX(1.027)">étons]</i></div>
<div class="t " style="left:105.5px;top:342.8px;color:#5f5f5f"><i style="left:0.00px;transform:scaleX(1.046)">A</i><i style="left:8.16px;transform:scaleX(1.068)">rticles</i></div>
<div class="t " style="left:105.5px;top:358.8px;color:#5f5f5f"><i style="left:0.00px;transform:scaleX(0.880)">*BETPROJD</i></div>
<div class="t " style="left:105.5px;top:374.8px;color:#5f5f5f"><i style="left:0.00px;transform:scaleX(0.943)">*MATBET</i></div>
<div class="t " style="left:86.5px;top:390.8px;color:#5f5f5f"><i style="left:0.00px;transform:scaleX(1.078)">000.03-[</i><i style="left:46.30px;transform:scaleX(0.882)">C</i><i style="left:53.75px;transform:scaleX(1.038)">offrages]</i></div>
<div class="t " style="left:105.5px;top:406.8px;color:#5f5f5f"><i style="left:0.00px;transform:scaleX(1.046)">A</i><i style="left:8.16px;transform:scaleX(1.068)">rticles</i></div>
<div class="t " style="left:105.5px;top:422.8px;color:#5f5f5f"><i style="left:0.00px;transform:scaleX(0.935)">*COFRIV</i></div>
<div class="t " style="left:86.5px;top:438.8px;color:#5f5f5f"><i style="left:0.00px;transform:scaleX(1.092)">000.04-[</i><i style="left:46.88px;transform:scaleX(1.012)">D</i><i style="left:55.43px;transform:scaleX(1.011)">ivers]</i></div>
<div class="t " style="left:105.5px;top:454.8px;color:#5f5f5f"><i style="left:0.00px;transform:scaleX(0.902)">*BRACONS</i></div>
<div class="t " style="left:105.5px;top:470.8px;color:#5f5f5f"><i style="left:0.00px;transform:scaleX(0.896)">*DIVSECU</i></div>
<div class="t " style="left:105.5px;top:486.8px;color:#5f5f5f"><i style="left:0.00px;transform:scaleX(0.848)">*EPREUVES</i></div>
<div class="t " style="left:105.5px;top:502.8px;color:#5f5f5f"><i style="left:0.00px;transform:scaleX(0.915)">*EVACGRAVAT</i></div>
<div class="t " style="left:105.5px;top:518.8px;color:#5f5f5f"><i style="left:0.00px;transform:scaleX(0.886)">*PROTGARE</i></div>
<div class="t " style="left:86.5px;top:534.8px;color:#5f5f5f"><i style="left:0.00px;transform:scaleX(1.112)">000.06-[</i><i style="left:47.74px;transform:scaleX(0.912)">B</i><i style="left:54.86px;transform:scaleX(1.063)">atardeaux / </i><i style="left:120.54px;transform:scaleX(0.805)">E</i><i style="left:126.82px;transform:scaleX(1.012)">stacades]</i></div>
<div class="t " style="left:86.5px;top:550.8px;color:#5f5f5f"><i style="left:0.00px;transform:scaleX(1.028)">000.20-[</i><i style="left:44.15px;transform:scaleX(0.893)">LEVAGE, MANUTENTION, NACELLES]</i></div>
<div class="t " style="left:105.5px;top:566.8px;color:#5f5f5f"><i style="left:0.00px;transform:scaleX(0.952)">*ROTATIF</i></div>
<div class="t " style="left:86.5px;top:582.8px;color:#5f5f5f"><i style="left:0.00px;transform:scaleX(1.093)">000.99-[</i><i style="left:46.92px;transform:scaleX(0.876)">P</i><i style="left:53.75px;transform:scaleX(1.005)">ostes </i><i style="left:85.12px;transform:scaleX(0.894)">C</i><i style="left:92.68px;transform:scaleX(1.093)">lient]</i></div>
<div class="t " style="left:105.5px;top:598.8px;color:#5f5f5f"><i style="left:0.00px;transform:scaleX(0.959)">4.3</i></div>
<div class="t " style="left:105.5px;top:614.8px;color:#5f5f5f"><i style="left:0.00px;transform:scaleX(0.959)">6,3</i></div>
<svg class="a" style="left:0;top:0" width="345" height="628" viewBox="0 0 345 628">
<defs>
<linearGradient id="tsil" x1="0" y1="0" x2="1" y2="0"><stop offset="0" stop-color="#9c9c9c"/><stop offset=".35" stop-color="#f4f4f4"/><stop offset=".7" stop-color="#c4c4c4"/><stop offset="1" stop-color="#8c8c8c"/></linearGradient>
<linearGradient id="tbase" x1="0" y1="0" x2="0" y2="1"><stop offset="0" stop-color="#6a6a6a"/><stop offset=".3" stop-color="#1c1c1c"/><stop offset="1" stop-color="#2c2c2c"/></linearGradient>
<linearGradient id="tcy" x1="0" y1="0" x2="1" y2="1"><stop offset="0" stop-color="#38c8ee"/><stop offset=".5" stop-color="#a4ecfa"/><stop offset="1" stop-color="#40ccee"/></linearGradient>
<linearGradient id="tbox" x1="0" y1="0" x2="0" y2="1"><stop offset="0" stop-color="#ffffff"/><stop offset="1" stop-color="#e6e6e6"/></linearGradient>
</defs>
<path d="M35.5,164V628" stroke="#6e6e6e" stroke-dasharray="1,1"/>
<path d="M54.5,196V628" stroke="#6e6e6e" stroke-dasharray="1,1"/>
<path d="M73.5,212V317" stroke="#6e6e6e" stroke-dasharray="1,1"/>
<path d="M73.5,340V381" stroke="#6e6e6e" stroke-dasharray="1,1"/>
<path d="M73.5,404V429" stroke="#6e6e6e" stroke-dasharray="1,1"/>
<path d="M73.5,452V525" stroke="#6e6e6e" stroke-dasharray="1,1"/>
<path d="M73.5,564V573" stroke="#6e6e6e" stroke-dasharray="1,1"/>
<path d="M73.5,596V628" stroke="#6e6e6e" stroke-dasharray="1,1"/>
<path d="M22,156.5H27" stroke="#6e6e6e" stroke-dasharray="1,1"/>
<path d="M37,172.5H46" stroke="#6e6e6e" stroke-dasharray="1,1"/>
<path d="M41,188.5H46" stroke="#6e6e6e" stroke-dasharray="1,1"/>
<path d="M60,204.5H65" stroke="#6e6e6e" stroke-dasharray="1,1"/>
<path d="M75,220.5H84" stroke="#6e6e6e" stroke-dasharray="1,1"/>
<path d="M75,236.5H84" stroke="#6e6e6e" stroke-dasharray="1,1"/>
<path d="M75,252.5H84" stroke="#6e6e6e" stroke-dasharray="1,1"/>
<path d="M75,268.5H84" stroke="#6e6e6e" stroke-dasharray="1,1"/>
<path d="M75,284.5H84" stroke="#6e6e6e" stroke-dasharray="1,1"/>
<path d="M75,300.5H84" stroke="#6e6e6e" stroke-dasharray="1,1"/>
<path d="M75,316.5H84" stroke="#6e6e6e" stroke-dasharray="1,1"/>
<path d="M60,332.5H65" stroke="#6e6e6e" stroke-dasharray="1,1"/>
<path d="M75,348.5H84" stroke="#6e6e6e" stroke-dasharray="1,1"/>
<path d="M75,364.5H84" stroke="#6e6e6e" stroke-dasharray="1,1"/>
<path d="M75,380.5H84" stroke="#6e6e6e" stroke-dasharray="1,1"/>
<path d="M60,396.5H65" stroke="#6e6e6e" stroke-dasharray="1,1"/>
<path d="M75,412.5H84" stroke="#6e6e6e" stroke-dasharray="1,1"/>
<path d="M75,428.5H84" stroke="#6e6e6e" stroke-dasharray="1,1"/>
<path d="M60,444.5H65" stroke="#6e6e6e" stroke-dasharray="1,1"/>
<path d="M75,460.5H84" stroke="#6e6e6e" stroke-dasharray="1,1"/>
<path d="M75,476.5H84" stroke="#6e6e6e" stroke-dasharray="1,1"/>
<path d="M75,492.5H84" stroke="#6e6e6e" stroke-dasharray="1,1"/>
<path d="M75,508.5H84" stroke="#6e6e6e" stroke-dasharray="1,1"/>
<path d="M75,524.5H84" stroke="#6e6e6e" stroke-dasharray="1,1"/>
<path d="M56,540.5H65" stroke="#6e6e6e" stroke-dasharray="1,1"/>
<path d="M60,556.5H65" stroke="#6e6e6e" stroke-dasharray="1,1"/>
<path d="M75,572.5H84" stroke="#6e6e6e" stroke-dasharray="1,1"/>
<path d="M60,588.5H65" stroke="#6e6e6e" stroke-dasharray="1,1"/>
<path d="M75,604.5H84" stroke="#6e6e6e" stroke-dasharray="1,1"/>
<path d="M75,620.5H84" stroke="#6e6e6e" stroke-dasharray="1,1"/>
<rect x="12.5" y="152.5" width="8" height="8" rx="1.3" fill="url(#tbox)" stroke="#929292"/>
<rect x="14" y="156" width="5" height="1" fill="#4058b0"/>
<path d="M29,158.6V152.5Q29.2,149.4 35,149.4Q40.8,149.4 41,152.5V158.6z" fill="url(#tcy)"/>
<path d="M31,153l2.4,-1.6l2,1.2l-1.6,2.4l-2,.4zM36.2,151.6l3,.4l.6,2.8l-2,1.4l-1.4,-2.2zM33,156l2.6,.3l-.8,1.6z" fill="#eefcff" opacity=".9"/>
<rect x="28.5" y="158.8" width="13" height="3.8" rx=".8" fill="url(#tbase)"/>
<circle cx="38.6" cy="160.8" r=".95" fill="#3be03b"/>
<path d="M49,165.4H56.6L59.6,168.2V177.8Q59.4,179 54.3,179Q49.2,179 49,177.8z" fill="#fbfbfb" stroke="#8c8c8c" stroke-width=".9"/>
<path d="M56.6,165.4V168.2H59.6" fill="#e6e6e6" stroke="#8c8c8c" stroke-width=".7"/>
<rect x="50.4" y="167.2" width="4.2" height="1.6" fill="#1c1c1c"/>
<path d="M51,170.6h7M51,172.6h7" stroke="#b2b2b2" stroke-width=".8"/>
<path d="M51,174.6h7M51,176.5h7" stroke="#6ccdf0" stroke-width="1"/>
<rect x="52.6" y="178.1" width="3.6" height="1" fill="#303030"/>
<rect x="31.5" y="184.5" width="8" height="8" rx="1.3" fill="url(#tbox)" stroke="#929292"/>
<rect x="33" y="188" width="5" height="1" fill="#4058b0"/>
<path d="M48.2,189.6V184.2Q48.5,181.2 54,181.2Q59.5,181.2 59.8,184.2V189.6z" fill="url(#tsil)"/>
<ellipse cx="54" cy="184.2" rx="5" ry="2.2" fill="#e4e4e4" stroke="#b4b4b4" stroke-width=".6"/>
<ellipse cx="54" cy="184.2" rx="1.1" ry=".6" fill="#a8a8a8"/>
<path d="M48,189.8l.5,-2.4l2,1.4v1zM60,189.8l-.5,-2.4l-2,1.4v1z" fill="#30c4e8"/>
<rect x="47.6" y="190" width="12.8" height="4.4" rx=".8" fill="url(#tbase)"/>
<circle cx="57.7" cy="192.4" r=".95" fill="#3be03b"/>
<rect x="50.5" y="200.5" width="8" height="8" rx="1.3" fill="url(#tbox)" stroke="#929292"/>
<rect x="52" y="204" width="5" height="1" fill="#4058b0"/>
<path d="M67.2,205.6V200.2Q67.5,197.2 73,197.2Q78.5,197.2 78.8,200.2V205.6z" fill="url(#tsil)"/>
<ellipse cx="73" cy="200.2" rx="5" ry="2.2" fill="#e4e4e4" stroke="#b4b4b4" stroke-width=".6"/>
<ellipse cx="73" cy="200.2" rx="1.1" ry=".6" fill="#a8a8a8"/>
<path d="M67,205.8l.5,-2.4l2,1.4v1zM79,205.8l-.5,-2.4l-2,1.4v1z" fill="#30c4e8"/>
<rect x="66.6" y="206" width="12.8" height="4.4" rx=".8" fill="url(#tbase)"/>
<circle cx="76.7" cy="208.4" r=".95" fill="#3be03b"/>
<path d="M87,213.4H94.6L97.6,216.2V225.8Q97.4,227 92.3,227Q87.2,227 87,225.8z" fill="#fbfbfb" stroke="#8c8c8c" stroke-width=".9"/>
<path d="M94.6,213.4V216.2H97.6" fill="#e6e6e6" stroke="#8c8c8c" stroke-width=".7"/>
<rect x="88.4" y="215.2" width="4.2" height="1.6" fill="#1c1c1c"/>
<path d="M89,218.6h7M89,220.6h7" stroke="#b2b2b2" stroke-width=".8"/>
<path d="M89,222.6h7M89,224.5h7" stroke="#6ccdf0" stroke-width="1"/>
<rect x="90.6" y="226.1" width="3.6" height="1" fill="#303030"/>
<path d="M86.2,232.4Q86.4,229.8 92.1,229.8Q97.8,229.8 98,232.4V241Q97.8,243.6 92.1,243.6Q86.4,243.6 86.2,241z" fill="url(#tsil)"/>
<ellipse cx="92.1" cy="232.3" rx="5.3" ry="2" fill="#ececec" stroke="#b0b0b0" stroke-width=".5"/>
<path d="M86.2,236.2Q92.1,239.4 98,236.2V239.4Q92.1,242.8 86.2,239.4z" fill="#3cc6e6" opacity=".9"/>
<path d="M88.4,237.6l2.2,2.4l1.5,-1.3l1.5,1.3l2.2,-2.4" fill="none" stroke="#dcdcdc" stroke-width="1.5"/>
<path d="M86.2,248.4Q86.4,245.8 92.1,245.8Q97.8,245.8 98,248.4V257Q97.8,259.6 92.1,259.6Q86.4,259.6 86.2,257z" fill="url(#tsil)"/>
<ellipse cx="92.1" cy="248.3" rx="5.3" ry="2" fill="#ececec" stroke="#b0b0b0" stroke-width=".5"/>
<path d="M86.2,252.2Q92.1,255.4 98,252.2V255.4Q92.1,258.8 86.2,255.4z" fill="#3cc6e6" opacity=".9"/>
<path d="M88.4,253.6l2.2,2.4l1.5,-1.3l1.5,1.3l2.2,-2.4" fill="none" stroke="#dcdcdc" stroke-width="1.5"/>
<path d="M86.2,264.4Q86.4,261.8 92.1,261.8Q97.8,261.8 98,264.4V273Q97.8,275.6 92.1,275.6Q86.4,275.6 86.2,273z" fill="url(#tsil)"/>
<ellipse cx="92.1" cy="264.3" rx="5.3" ry="2" fill="#ececec" stroke="#b0b0b0" stroke-width=".5"/>
<path d="M86.2,268.2Q92.1,271.4 98,268.2V271.4Q92.1,274.8 86.2,271.4z" fill="#3cc6e6" opacity=".9"/>
<path d="M88.4,269.6l2.2,2.4l1.5,-1.3l1.5,1.3l2.2,-2.4" fill="none" stroke="#dcdcdc" stroke-width="1.5"/>
<path d="M86.2,280.4Q86.4,277.8 92.1,277.8Q97.8,277.8 98,280.4V289Q97.8,291.6 92.1,291.6Q86.4,291.6 86.2,289z" fill="url(#tsil)"/>
<ellipse cx="92.1" cy="280.3" rx="5.3" ry="2" fill="#ececec" stroke="#b0b0b0" stroke-width=".5"/>
<path d="M86.2,284.2Q92.1,287.4 98,284.2V287.4Q92.1,290.8 86.2,287.4z" fill="#3cc6e6" opacity=".9"/>
<path d="M88.4,285.6l2.2,2.4l1.5,-1.3l1.5,1.3l2.2,-2.4" fill="none" stroke="#dcdcdc" stroke-width="1.5"/>
<path d="M86.2,296.4Q86.4,293.8 92.1,293.8Q97.8,293.8 98,296.4V305Q97.8,307.6 92.1,307.6Q86.4,307.6 86.2,305z" fill="url(#tsil)"/>
<ellipse cx="92.1" cy="296.3" rx="5.3" ry="2" fill="#ececec" stroke="#b0b0b0" stroke-width=".5"/>
<path d="M86.2,300.2Q92.1,303.4 98,300.2V303.4Q92.1,306.8 86.2,303.4z" fill="#3cc6e6" opacity=".9"/>
<path d="M88.4,301.6l2.2,2.4l1.5,-1.3l1.5,1.3l2.2,-2.4" fill="none" stroke="#dcdcdc" stroke-width="1.5"/>
<path d="M86.2,312.4Q86.4,309.8 92.1,309.8Q97.8,309.8 98,312.4V321Q97.8,323.6 92.1,323.6Q86.4,323.6 86.2,321z" fill="url(#tsil)"/>
<ellipse cx="92.1" cy="312.3" rx="5.3" ry="2" fill="#ececec" stroke="#b0b0b0" stroke-width=".5"/>
<path d="M86.2,316.2Q92.1,319.4 98,316.2V319.4Q92.1,322.8 86.2,319.4z" fill="#3cc6e6" opacity=".9"/>
<path d="M88.4,317.6l2.2,2.4l1.5,-1.3l1.5,1.3l2.2,-2.4" fill="none" stroke="#dcdcdc" stroke-width="1.5"/>
<rect x="50.5" y="328.5" width="8" height="8" rx="1.3" fill="url(#tbox)" stroke="#929292"/>
<rect x="52" y="332" width="5" height="1" fill="#4058b0"/>
<path d="M67.2,333.6V328.2Q67.5,325.2 73,325.2Q78.5,325.2 78.8,328.2V333.6z" fill="url(#tsil)"/>
<ellipse cx="73" cy="328.2" rx="5" ry="2.2" fill="#e4e4e4" stroke="#b4b4b4" stroke-width=".6"/>
<ellipse cx="73" cy="328.2" rx="1.1" ry=".6" fill="#a8a8a8"/>
<path d="M67,333.8l.5,-2.4l2,1.4v1zM79,333.8l-.5,-2.4l-2,1.4v1z" fill="#30c4e8"/>
<rect x="66.6" y="334" width="12.8" height="4.4" rx=".8" fill="url(#tbase)"/>
<circle cx="76.7" cy="336.4" r=".95" fill="#3be03b"/>
<path d="M87,341.4H94.6L97.6,344.2V353.8Q97.4,355 92.3,355Q87.2,355 87,353.8z" fill="#fbfbfb" stroke="#8c8c8c" stroke-width=".9"/>
<path d="M94.6,341.4V344.2H97.6" fill="#e6e6e6" stroke="#8c8c8c" stroke-width=".7"/>
<rect x="88.4" y="343.2" width="4.2" height="1.6" fill="#1c1c1c"/>
<path d="M89,346.6h7M89,348.6h7" stroke="#b2b2b2" stroke-width=".8"/>
<path d="M89,350.6h7M89,352.5h7" stroke="#6ccdf0" stroke-width="1"/>
<rect x="90.6" y="354.1" width="3.6" height="1" fill="#303030"/>
<path d="M86.2,360.4Q86.4,357.8 92.1,357.8Q97.8,357.8 98,360.4V369Q97.8,371.6 92.1,371.6Q86.4,371.6 86.2,369z" fill="url(#tsil)"/>
<ellipse cx="92.1" cy="360.3" rx="5.3" ry="2" fill="#ececec" stroke="#b0b0b0" stroke-width=".5"/>
<path d="M86.2,364.2Q92.1,367.4 98,364.2V367.4Q92.1,370.8 86.2,367.4z" fill="#3cc6e6" opacity=".9"/>
<path d="M88.4,365.6l2.2,2.4l1.5,-1.3l1.5,1.3l2.2,-2.4" fill="none" stroke="#dcdcdc" stroke-width="1.5"/>
<path d="M86.2,376.4Q86.4,373.8 92.1,373.8Q97.8,373.8 98,376.4V385Q97.8,387.6 92.1,387.6Q86.4,387.6 86.2,385z" fill="url(#tsil)"/>
<ellipse cx="92.1" cy="376.3" rx="5.3" ry="2" fill="#ececec" stroke="#b0b0b0" stroke-width=".5"/>
<path d="M86.2,380.2Q92.1,383.4 98,380.2V383.4Q92.1,386.8 86.2,383.4z" fill="#3cc6e6" opacity=".9"/>
<path d="M88.4,381.6l2.2,2.4l1.5,-1.3l1.5,1.3l2.2,-2.4" fill="none" stroke="#dcdcdc" stroke-width="1.5"/>
<rect x="50.5" y="392.5" width="8" height="8" rx="1.3" fill="url(#tbox)" stroke="#929292"/>
<rect x="52" y="396" width="5" height="1" fill="#4058b0"/>
<path d="M67.2,397.6V392.2Q67.5,389.2 73,389.2Q78.5,389.2 78.8,392.2V397.6z" fill="url(#tsil)"/>
<ellipse cx="73" cy="392.2" rx="5" ry="2.2" fill="#e4e4e4" stroke="#b4b4b4" stroke-width=".6"/>
<ellipse cx="73" cy="392.2" rx="1.1" ry=".6" fill="#a8a8a8"/>
<path d="M67,397.8l.5,-2.4l2,1.4v1zM79,397.8l-.5,-2.4l-2,1.4v1z" fill="#30c4e8"/>
<rect x="66.6" y="398" width="12.8" height="4.4" rx=".8" fill="url(#tbase)"/>
<circle cx="76.7" cy="400.4" r=".95" fill="#3be03b"/>
<path d="M87,405.4H94.6L97.6,408.2V417.8Q97.4,419 92.3,419Q87.2,419 87,417.8z" fill="#fbfbfb" stroke="#8c8c8c" stroke-width=".9"/>
<path d="M94.6,405.4V408.2H97.6" fill="#e6e6e6" stroke="#8c8c8c" stroke-width=".7"/>
<rect x="88.4" y="407.2" width="4.2" height="1.6" fill="#1c1c1c"/>
<path d="M89,410.6h7M89,412.6h7" stroke="#b2b2b2" stroke-width=".8"/>
<path d="M89,414.6h7M89,416.5h7" stroke="#6ccdf0" stroke-width="1"/>
<rect x="90.6" y="418.1" width="3.6" height="1" fill="#303030"/>
<path d="M86.2,424.4Q86.4,421.8 92.1,421.8Q97.8,421.8 98,424.4V433Q97.8,435.6 92.1,435.6Q86.4,435.6 86.2,433z" fill="url(#tsil)"/>
<ellipse cx="92.1" cy="424.3" rx="5.3" ry="2" fill="#ececec" stroke="#b0b0b0" stroke-width=".5"/>
<path d="M86.2,428.2Q92.1,431.4 98,428.2V431.4Q92.1,434.8 86.2,431.4z" fill="#3cc6e6" opacity=".9"/>
<path d="M88.4,429.6l2.2,2.4l1.5,-1.3l1.5,1.3l2.2,-2.4" fill="none" stroke="#dcdcdc" stroke-width="1.5"/>
<rect x="50.5" y="440.5" width="8" height="8" rx="1.3" fill="url(#tbox)" stroke="#929292"/>
<rect x="52" y="444" width="5" height="1" fill="#4058b0"/>
<path d="M67.2,445.6V440.2Q67.5,437.2 73,437.2Q78.5,437.2 78.8,440.2V445.6z" fill="url(#tsil)"/>
<ellipse cx="73" cy="440.2" rx="5" ry="2.2" fill="#e4e4e4" stroke="#b4b4b4" stroke-width=".6"/>
<ellipse cx="73" cy="440.2" rx="1.1" ry=".6" fill="#a8a8a8"/>
<path d="M67,445.8l.5,-2.4l2,1.4v1zM79,445.8l-.5,-2.4l-2,1.4v1z" fill="#30c4e8"/>
<rect x="66.6" y="446" width="12.8" height="4.4" rx=".8" fill="url(#tbase)"/>
<circle cx="76.7" cy="448.4" r=".95" fill="#3be03b"/>
<path d="M86.2,456.4Q86.4,453.8 92.1,453.8Q97.8,453.8 98,456.4V465Q97.8,467.6 92.1,467.6Q86.4,467.6 86.2,465z" fill="url(#tsil)"/>
<ellipse cx="92.1" cy="456.3" rx="5.3" ry="2" fill="#ececec" stroke="#b0b0b0" stroke-width=".5"/>
<path d="M86.2,460.2Q92.1,463.4 98,460.2V463.4Q92.1,466.8 86.2,463.4z" fill="#3cc6e6" opacity=".9"/>
<path d="M88.4,461.6l2.2,2.4l1.5,-1.3l1.5,1.3l2.2,-2.4" fill="none" stroke="#dcdcdc" stroke-width="1.5"/>
<path d="M86.2,472.4Q86.4,469.8 92.1,469.8Q97.8,469.8 98,472.4V481Q97.8,483.6 92.1,483.6Q86.4,483.6 86.2,481z" fill="url(#tsil)"/>
<ellipse cx="92.1" cy="472.3" rx="5.3" ry="2" fill="#ececec" stroke="#b0b0b0" stroke-width=".5"/>
<path d="M86.2,476.2Q92.1,479.4 98,476.2V479.4Q92.1,482.8 86.2,479.4z" fill="#3cc6e6" opacity=".9"/>
<path d="M88.4,477.6l2.2,2.4l1.5,-1.3l1.5,1.3l2.2,-2.4" fill="none" stroke="#dcdcdc" stroke-width="1.5"/>
<path d="M86.2,488.4Q86.4,485.8 92.1,485.8Q97.8,485.8 98,488.4V497Q97.8,499.6 92.1,499.6Q86.4,499.6 86.2,497z" fill="url(#tsil)"/>
<ellipse cx="92.1" cy="488.3" rx="5.3" ry="2" fill="#ececec" stroke="#b0b0b0" stroke-width=".5"/>
<path d="M86.2,492.2Q92.1,495.4 98,492.2V495.4Q92.1,498.8 86.2,495.4z" fill="#3cc6e6" opacity=".9"/>
<path d="M88.4,493.6l2.2,2.4l1.5,-1.3l1.5,1.3l2.2,-2.4" fill="none" stroke="#dcdcdc" stroke-width="1.5"/>
<path d="M86.2,504.4Q86.4,501.8 92.1,501.8Q97.8,501.8 98,504.4V513Q97.8,515.6 92.1,515.6Q86.4,515.6 86.2,513z" fill="url(#tsil)"/>
<ellipse cx="92.1" cy="504.3" rx="5.3" ry="2" fill="#ececec" stroke="#b0b0b0" stroke-width=".5"/>
<path d="M86.2,508.2Q92.1,511.4 98,508.2V511.4Q92.1,514.8 86.2,511.4z" fill="#3cc6e6" opacity=".9"/>
<path d="M88.4,509.6l2.2,2.4l1.5,-1.3l1.5,1.3l2.2,-2.4" fill="none" stroke="#dcdcdc" stroke-width="1.5"/>
<path d="M86.2,520.4Q86.4,517.8 92.1,517.8Q97.8,517.8 98,520.4V529Q97.8,531.6 92.1,531.6Q86.4,531.6 86.2,529z" fill="url(#tsil)"/>
<ellipse cx="92.1" cy="520.3" rx="5.3" ry="2" fill="#ececec" stroke="#b0b0b0" stroke-width=".5"/>
<path d="M86.2,524.2Q92.1,527.4 98,524.2V527.4Q92.1,530.8 86.2,527.4z" fill="#3cc6e6" opacity=".9"/>
<path d="M88.4,525.6l2.2,2.4l1.5,-1.3l1.5,1.3l2.2,-2.4" fill="none" stroke="#dcdcdc" stroke-width="1.5"/>
<path d="M67.2,541.6V536.2Q67.5,533.2 73,533.2Q78.5,533.2 78.8,536.2V541.6z" fill="url(#tsil)"/>
<ellipse cx="73" cy="536.2" rx="5" ry="2.2" fill="#e4e4e4" stroke="#b4b4b4" stroke-width=".6"/>
<ellipse cx="73" cy="536.2" rx="1.1" ry=".6" fill="#a8a8a8"/>
<path d="M67,541.8l.5,-2.4l2,1.4v1zM79,541.8l-.5,-2.4l-2,1.4v1z" fill="#30c4e8"/>
<rect x="66.6" y="542" width="12.8" height="4.4" rx=".8" fill="url(#tbase)"/>
<circle cx="76.7" cy="544.4" r=".95" fill="#3be03b"/>
<rect x="50.5" y="552.5" width="8" height="8" rx="1.3" fill="url(#tbox)" stroke="#929292"/>
<rect x="52" y="556" width="5" height="1" fill="#4058b0"/>
<path d="M67.2,557.6V552.2Q67.5,549.2 73,549.2Q78.5,549.2 78.8,552.2V557.6z" fill="url(#tsil)"/>
<ellipse cx="73" cy="552.2" rx="5" ry="2.2" fill="#e4e4e4" stroke="#b4b4b4" stroke-width=".6"/>
<ellipse cx="73" cy="552.2" rx="1.1" ry=".6" fill="#a8a8a8"/>
<path d="M67,557.8l.5,-2.4l2,1.4v1zM79,557.8l-.5,-2.4l-2,1.4v1z" fill="#30c4e8"/>
<rect x="66.6" y="558" width="12.8" height="4.4" rx=".8" fill="url(#tbase)"/>
<circle cx="76.7" cy="560.4" r=".95" fill="#3be03b"/>
<path d="M86.2,568.4Q86.4,565.8 92.1,565.8Q97.8,565.8 98,568.4V577Q97.8,579.6 92.1,579.6Q86.4,579.6 86.2,577z" fill="url(#tsil)"/>
<ellipse cx="92.1" cy="568.3" rx="5.3" ry="2" fill="#ececec" stroke="#b0b0b0" stroke-width=".5"/>
<path d="M86.2,572.2Q92.1,575.4 98,572.2V575.4Q92.1,578.8 86.2,575.4z" fill="#3cc6e6" opacity=".9"/>
<path d="M88.4,573.6l2.2,2.4l1.5,-1.3l1.5,1.3l2.2,-2.4" fill="none" stroke="#dcdcdc" stroke-width="1.5"/>
<rect x="50.5" y="584.5" width="8" height="8" rx="1.3" fill="url(#tbox)" stroke="#929292"/>
<rect x="52" y="588" width="5" height="1" fill="#4058b0"/>
<path d="M67.2,589.6V584.2Q67.5,581.2 73,581.2Q78.5,581.2 78.8,584.2V589.6z" fill="url(#tsil)"/>
<ellipse cx="73" cy="584.2" rx="5" ry="2.2" fill="#e4e4e4" stroke="#b4b4b4" stroke-width=".6"/>
<ellipse cx="73" cy="584.2" rx="1.1" ry=".6" fill="#a8a8a8"/>
<path d="M67,589.8l.5,-2.4l2,1.4v1zM79,589.8l-.5,-2.4l-2,1.4v1z" fill="#30c4e8"/>
<rect x="66.6" y="590" width="12.8" height="4.4" rx=".8" fill="url(#tbase)"/>
<circle cx="76.7" cy="592.4" r=".95" fill="#3be03b"/>
<path d="M86.2,600.4Q86.4,597.8 92.1,597.8Q97.8,597.8 98,600.4V609Q97.8,611.6 92.1,611.6Q86.4,611.6 86.2,609z" fill="url(#tsil)"/>
<ellipse cx="92.1" cy="600.3" rx="5.3" ry="2" fill="#ececec" stroke="#b0b0b0" stroke-width=".5"/>
<path d="M86.2,604.2Q92.1,607.4 98,604.2V607.4Q92.1,610.8 86.2,607.4z" fill="#3cc6e6" opacity=".9"/>
<path d="M88.4,605.6l2.2,2.4l1.5,-1.3l1.5,1.3l2.2,-2.4" fill="none" stroke="#dcdcdc" stroke-width="1.5"/>
<path d="M86.2,616.4Q86.4,613.8 92.1,613.8Q97.8,613.8 98,616.4V625Q97.8,627.6 92.1,627.6Q86.4,627.6 86.2,625z" fill="url(#tsil)"/>
<ellipse cx="92.1" cy="616.3" rx="5.3" ry="2" fill="#ececec" stroke="#b0b0b0" stroke-width=".5"/>
<path d="M86.2,620.2Q92.1,623.4 98,620.2V623.4Q92.1,626.8 86.2,623.4z" fill="#3cc6e6" opacity=".9"/>
<path d="M88.4,621.6l2.2,2.4l1.5,-1.3l1.5,1.3l2.2,-2.4" fill="none" stroke="#dcdcdc" stroke-width="1.5"/>
</svg>
<div class="a" style="left:366px;top:148px;width:1083px;height:480px;background:#b0c4de"></div>
<div class="hg" style="left:365px;top:149px;width:1001px;height:34px"></div>
<div class="hg" style="left:365px;top:183px;width:33px;height:65px"></div>
<div class="hb" style="left:398px;top:183px;width:968px;height:65px"></div>
<div class="hg" style="left:398px;top:149.4px;width:40px;height:33px"><div><span class="g" style="width:15.25px;height:16px"><i style="left:0.00px;transform:scaleX(0.998)">+N</i></span></div></div>
<div class="hg" style="left:512px;top:149.4px;width:74px;height:33px"><div><span class="g" style="width:64.21px;height:16px"><i style="left:0.00px;transform:scaleX(0.866)">RESSOURCE</i></span></div><div><span class="g" style="width:6.12px;height:16px"><i style="left:0.00px;transform:scaleX(0.784)">S</i></span></div></div>
<div class="hg" style="left:586px;top:149.4px;width:46px;height:33px"><div><span class="g" style="width:39.35px;height:16px"><i style="left:0.00px;transform:scaleX(0.982)">MATER</i></span></div><div><span class="g" style="width:16.68px;height:16px"><i style="left:0.00px;transform:scaleX(0.950)">IAL</i></span></div></div>
<div class="hg" style="left:632px;top:149.4px;width:161px;height:33px"><div><span class="g" style="width:70.33px;height:16px"><i style="left:0.00px;transform:scaleX(0.859)">RESSOURCES</i></span></div></div>
<div class="hg" style="left:793px;top:149.4px;width:290px;height:33px"><div><span class="g" style="width:70.33px;height:16px"><i style="left:0.00px;transform:scaleX(0.859)">RESSOURCES</i></span></div></div>
<div class="hb" style="left:398px;top:184px;width:40px;height:64px"><div><span class="g" style="width:6.64px;height:16px"><i style="left:0.00px;transform:scaleX(1.020)">#</i></span></div></div>
<div class="hb" style="left:438px;top:184px;width:74px;height:64px"><div><span class="g" style="width:65.46px;height:16px"><i style="left:0.00px;transform:scaleX(0.986)">Q</i><i style="left:8.97px;transform:scaleX(1.046)">té évaluée</i></span></div><div><span class="g" style="width:30.94px;height:16px"><i style="left:0.00px;transform:scaleX(0.915)">QE</i><i style="left:15.48px;transform:scaleX(1.034)">val</i></span></div></div>
<div class="hb" style="left:512px;top:184px;width:74px;height:64px"><div><span class="g" style="width:25.59px;height:16px"><i style="left:0.00px;transform:scaleX(0.841)">C</i><i style="left:7.10px;transform:scaleX(1.137)">oût</i></span></div><div><span class="g" style="width:43.80px;height:16px"><i style="left:0.00px;transform:scaleX(1.013)">U</i><i style="left:8.56px;transform:scaleX(1.106)">nitaire</i></span></div></div>
<div class="hb" style="left:586px;top:184px;width:46px;height:64px"><div><span class="g" style="width:36.07px;height:16px"><i style="left:0.00px;transform:scaleX(1.019)">N</i><i style="left:8.61px;transform:scaleX(1.082)">egoti</i></span></div><div><span class="g" style="width:27.93px;height:16px"><i style="left:0.00px;transform:scaleX(1.101)">ation</i></span></div><div><span class="g" style="width:41.60px;height:16px"><i style="left:0.00px;transform:scaleX(1.049)">(percen</i></span></div><div><span class="g" style="width:8.50px;height:16px"><i style="left:0.00px;transform:scaleX(1.190)">t)</i></span></div></div>
<div class="hb" style="left:632px;top:184px;width:87px;height:64px"><div><span class="g" style="width:59.85px;height:16px"><i style="left:0.00px;transform:scaleX(0.857)">R</i><i style="left:7.24px;transform:scaleX(0.998)">abais. </i><i style="left:41.64px;transform:scaleX(0.841)">C</i><i style="left:48.75px;transform:scaleX(1.067)">o-</i></span></div><div><span class="g" style="width:60.29px;height:16px"><i style="left:0.00px;transform:scaleX(0.908)">T</i><i style="left:6.49px;transform:scaleX(1.087)">rait. (</i><i style="left:35.46px;transform:scaleX(0.841)">C</i><i style="left:42.56px;transform:scaleX(1.090)">oef</i></span></div><div><span class="g" style="width:25.91px;height:16px"><i style="left:0.00px;transform:scaleX(0.949)">FDV)</i></span></div></div>
<div class="hb" style="left:719px;top:184px;width:74px;height:64px"><div><span class="g" style="width:25.59px;height:16px"><i style="left:0.00px;transform:scaleX(0.841)">C</i><i style="left:7.10px;transform:scaleX(1.137)">oût</i></span></div><div><span class="g" style="width:43.80px;height:16px"><i style="left:0.00px;transform:scaleX(1.013)">U</i><i style="left:8.56px;transform:scaleX(1.106)">nitaire</i></span></div><div><span class="g" style="width:23.57px;height:16px"><i style="left:0.00px;transform:scaleX(0.857)">R</i><i style="left:7.24px;transform:scaleX(1.046)">éel</i></span></div></div>
<div class="hb" style="left:793px;top:184px;width:108px;height:64px"><div><span class="g" style="width:11.56px;height:16px"><i style="left:0.00px;transform:scaleX(0.988)">ID</i></span></div></div>
<div class="hb" style="left:901px;top:184px;width:108px;height:64px"><div><span class="g" style="width:56.03px;height:16px"><i style="left:0.00px;transform:scaleX(0.841)">C</i><i style="left:7.10px;transform:scaleX(1.102)">out </i><i style="left:28.61px;transform:scaleX(0.908)">T</i><i style="left:35.10px;transform:scaleX(1.109)">otal</i></span></div></div>
<div class="hb" style="left:1009px;top:184px;width:74px;height:64px"><div><span class="g" style="width:47.11px;height:16px"><i style="left:0.00px;transform:scaleX(0.908)">T</i><i style="left:6.49px;transform:scaleX(1.077)">ps total</i></span></div><div><span class="g" style="width:40.24px;height:16px"><i style="left:0.00px;transform:scaleX(0.883)">P</i><i style="left:6.89px;transform:scaleX(1.070)">rod. </i><i style="left:31.94px;transform:scaleX(0.983)">H</i></span></div></div>
<div class="hb" style="left:1083px;top:184px;width:74px;height:64px"><div><span class="g" style="width:51.88px;height:16px"><i style="left:0.00px;transform:scaleX(1.013)">U</i><i style="left:8.56px;transform:scaleX(1.057)">ser field</i></span></div></div>
<div class="hb" style="left:1157px;top:184px;width:33px;height:64px"><div><span class="g" style="width:25.43px;height:16px"><i style="left:0.00px;transform:scaleX(0.970)">D</i><i style="left:8.20px;transform:scaleX(1.060)">ata</i></span></div><div><span class="g" style="width:25.23px;height:16px"><i style="left:0.00px;transform:scaleX(0.995)">base</i></span></div><div><span class="g" style="width:24.85px;height:16px"><i style="left:0.00px;transform:scaleX(1.091)">path</i></span></div></div>
<div class="hb" style="left:1190px;top:184px;width:176px;height:64px"><div><span class="g" style="width:89.84px;height:16px"><i style="left:0.00px;transform:scaleX(0.970)">D</i><i style="left:8.20px;transform:scaleX(1.021)">atabase source</i></span></div></div>
<div class="a" style="left:636px;top:165px;width:8px;height:2px;background:#000"></div>
<div class="a" style="left:798px;top:165px;width:8px;height:2px;background:#000"></div>
<div class="a" style="left:1087px;top:165px;width:8px;height:2px;background:#000"></div>
<div class="c r" style="left:365px;top:248px;width:33px;background:#d3d3d3"></div>
<div class="c m" style="left:398px;top:248px;width:40px;background:#fcd5b4"><span class="g" style="width:27.59px;height:16px"><i style="left:0.00px;transform:scaleX(0.884)">BASE</i></span></div>
<div class="c r" style="left:438px;top:248px;width:74px;background:#fcd5b4"><span class="g" style="width:28.11px;height:16px"><i style="left:0.00px;transform:scaleX(1.081)">#N/A</i></span></div>
<div class="c r" style="left:512px;top:248px;width:74px;background:#fcd5b4"></div>
<div class="c r" style="left:586px;top:248px;width:46px;background:#fcd5b4"></div>
<div class="c r" style="left:632px;top:248px;width:87px;background:#fcd5b4"><span class="g" style="width:23.63px;height:16px"><i style="left:0.00px;transform:scaleX(1.038)">1.00</i></span></div>
<div class="c r" style="left:719px;top:248px;width:74px;background:#fcd5b4"><span class="g" style="width:28.11px;height:16px"><i style="left:0.00px;transform:scaleX(1.081)">#N/A</i></span></div>
<div class="c r" style="left:793px;top:248px;width:108px;background:#fcd5b4"></div>
<div class="c r" style="left:901px;top:248px;width:108px;background:#fcd5b4"><span class="g" style="width:28.11px;height:16px"><i style="left:0.00px;transform:scaleX(1.081)">#N/A</i></span></div>
<div class="c r" style="left:1009px;top:248px;width:74px;background:#fcd5b4"></div>
<div class="c r" style="left:1083px;top:248px;width:74px;background:#fcd5b4"></div>
<div class="c r" style="left:1157px;top:248px;width:33px;background:#fcd5b4"></div>
<div class="c r" style="left:1190px;top:248px;width:176px;background:#fcd5b4"></div>
<div class="c r" style="left:365px;top:266px;width:33px;background:#d3d3d3"></div>
<div class="c m" style="left:398px;top:266px;width:40px;background:#e6e6e6"><span class="g" style="width:6.76px;height:16px"><i style="left:0.00px;transform:scaleX(1.039)">1</i></span></div>
<div class="c r" style="left:438px;top:266px;width:74px;background:#fff"><span class="g" style="width:28.11px;height:16px"><i style="left:0.00px;transform:scaleX(1.081)">#N/A</i></span></div>
<div class="c r" style="left:512px;top:266px;width:74px;background:#ffffc0"></div>
<div class="c r" style="left:586px;top:266px;width:46px;background:#e4e4e4"></div>
<div class="c r" style="left:632px;top:266px;width:87px;background:#fff"><span class="g" style="width:23.63px;height:16px"><i style="left:0.00px;transform:scaleX(1.038)">1.00</i></span></div>
<div class="c r" style="left:719px;top:266px;width:74px;background:#e4e4e4"><span class="g" style="width:28.11px;height:16px"><i style="left:0.00px;transform:scaleX(1.081)">#N/A</i></span></div>
<div class="c l" style="left:793px;top:266px;width:108px;background:#ffffc0"></div>
<div class="c r" style="left:901px;top:266px;width:108px;background:#fff"><span class="g" style="width:28.11px;height:16px"><i style="left:0.00px;transform:scaleX(1.081)">#N/A</i></span></div>
<div class="c r" style="left:1009px;top:266px;width:74px;background:#e4e4e4"><span class="g" style="width:28.11px;height:16px"><i style="left:0.00px;transform:scaleX(1.081)">#N/A</i></span></div>
<div class="c l" style="left:1083px;top:266px;width:74px;background:#fff"><span class="g" style="width:37.15px;height:16px"><i style="left:0.00px;transform:scaleX(1.038)">030.03</i></span></div>
<div class="c r" style="left:1157px;top:266px;width:33px;background:#fff"></div>
<div class="c r" style="left:1190px;top:266px;width:176px;background:#fff"></div>
<div class="c r" style="left:365px;top:284px;width:33px;background:#d3d3d3"></div>
<div class="c m" style="left:398px;top:284px;width:40px;background:#e6e6e6"><span class="g" style="width:6.76px;height:16px"><i style="left:0.00px;transform:scaleX(1.039)">2</i></span></div>
<div class="c r" style="left:438px;top:284px;width:74px;background:#fff"><span class="g" style="width:28.11px;height:16px"><i style="left:0.00px;transform:scaleX(1.081)">#N/A</i></span></div>
<div class="c r" style="left:512px;top:284px;width:74px;background:#ffffc0"></div>
<div class="c r" style="left:586px;top:284px;width:46px;background:#e4e4e4"></div>
<div class="c r" style="left:632px;top:284px;width:87px;background:#fff"><span class="g" style="width:23.63px;height:16px"><i style="left:0.00px;transform:scaleX(1.038)">1.00</i></span></div>
<div class="c r" style="left:719px;top:284px;width:74px;background:#e4e4e4"><span class="g" style="width:28.11px;height:16px"><i style="left:0.00px;transform:scaleX(1.081)">#N/A</i></span></div>
<div class="c l" style="left:793px;top:284px;width:108px;background:#ffffc0"></div>
<div class="c r" style="left:901px;top:284px;width:108px;background:#fff"><span class="g" style="width:28.11px;height:16px"><i style="left:0.00px;transform:scaleX(1.081)">#N/A</i></span></div>
<div class="c r" style="left:1009px;top:284px;width:74px;background:#e4e4e4"><span class="g" style="width:28.11px;height:16px"><i style="left:0.00px;transform:scaleX(1.081)">#N/A</i></span></div>
<div class="c l" style="left:1083px;top:284px;width:74px;background:#fff"></div>
<div class="c r" style="left:1157px;top:284px;width:33px;background:#fff"></div>
<div class="c r" style="left:1190px;top:284px;width:176px;background:#fff"></div>
<div class="c r" style="left:365px;top:302px;width:33px;background:#d3d3d3"></div>
<div class="c m" style="left:398px;top:302px;width:40px;background:#e6e6e6"><span class="g" style="width:6.76px;height:16px"><i style="left:0.00px;transform:scaleX(1.039)">3</i></span></div>
<div class="c r" style="left:438px;top:302px;width:74px;background:#fff"><span class="g" style="width:28.11px;height:16px"><i style="left:0.00px;transform:scaleX(1.081)">#N/A</i></span></div>
<div class="c r" style="left:512px;top:302px;width:74px;background:#ffffc0"></div>
<div class="c r" style="left:586px;top:302px;width:46px;background:#e4e4e4"></div>
<div class="c r" style="left:632px;top:302px;width:87px;background:#fff"><span class="g" style="width:23.63px;height:16px"><i style="left:0.00px;transform:scaleX(1.038)">1.00</i></span></div>
<div class="c r" style="left:719px;top:302px;width:74px;background:#e4e4e4"><span class="g" style="width:28.11px;height:16px"><i style="left:0.00px;transform:scaleX(1.081)">#N/A</i></span></div>
<div class="c l" style="left:793px;top:302px;width:108px;background:#ffffc0"></div>
<div class="c r" style="left:901px;top:302px;width:108px;background:#fff"><span class="g" style="width:28.11px;height:16px"><i style="left:0.00px;transform:scaleX(1.081)">#N/A</i></span></div>
<div class="c r" style="left:1009px;top:302px;width:74px;background:#e4e4e4"><span class="g" style="width:28.11px;height:16px"><i style="left:0.00px;transform:scaleX(1.081)">#N/A</i></span></div>
<div class="c l" style="left:1083px;top:302px;width:74px;background:#fff"></div>
<div class="c r" style="left:1157px;top:302px;width:33px;background:#fff"></div>
<div class="c r" style="left:1190px;top:302px;width:176px;background:#fff"></div>
<div class="c r" style="left:365px;top:320px;width:33px;background:#d3d3d3"></div>
<div class="c m" style="left:398px;top:320px;width:40px;background:#e6e6e6"><span class="g" style="width:6.76px;height:16px"><i style="left:0.00px;transform:scaleX(1.039)">4</i></span></div>
<div class="c r" style="left:438px;top:320px;width:74px;background:#fff"><span class="g" style="width:28.11px;height:16px"><i style="left:0.00px;transform:scaleX(1.081)">#N/A</i></span></div>
<div class="c r" style="left:512px;top:320px;width:74px;background:#ffffc0"><span class="g" style="width:47.24px;height:16px"><i style="left:0.00px;transform:scaleX(1.037)">3,550.00</i></span></div>
<div class="c r" style="left:586px;top:320px;width:46px;background:#e4e4e4"></div>
<div class="c r" style="left:632px;top:320px;width:87px;background:#fff"><span class="g" style="width:23.63px;height:16px"><i style="left:0.00px;transform:scaleX(1.038)">1.00</i></span></div>
<div class="c r" style="left:719px;top:320px;width:74px;background:#e4e4e4"><span class="g" style="width:28.11px;height:16px"><i style="left:0.00px;transform:scaleX(1.081)">#N/A</i></span></div>
<div class="c l" style="left:793px;top:320px;width:108px;background:#ffffc0"><span class="g" style="width:37.15px;height:16px"><i style="left:0.00px;transform:scaleX(1.038)">030.13</i></span><span style="position:absolute;left:47.7px;top:0"><span class="g" style="width:95.51px;height:16px"><i style="left:0.00px;transform:scaleX(0.982)">[LEVAGE, MANUT</i></span></span></div>
<div class="c r" style="left:901px;top:320px;width:108px;background:#fff"><span class="g" style="width:28.11px;height:16px"><i style="left:0.00px;transform:scaleX(1.081)">#N/A</i></span></div>
<div class="c r" style="left:1009px;top:320px;width:74px;background:#e4e4e4"><span class="g" style="width:28.11px;height:16px"><i style="left:0.00px;transform:scaleX(1.081)">#N/A</i></span></div>
<div class="c l" style="left:1083px;top:320px;width:74px;background:#fff"></div>
<div class="c r" style="left:1157px;top:320px;width:33px;background:#fff"></div>
<div class="c r" style="left:1190px;top:320px;width:176px;background:#fff"></div>
<div class="c r" style="left:365px;top:338px;width:33px;background:#d3d3d3"></div>
<div class="c m" style="left:398px;top:338px;width:40px;background:#e6e6e6"><span class="g" style="width:6.76px;height:16px"><i style="left:0.00px;transform:scaleX(1.039)">5</i></span></div>
<div class="c r" style="left:438px;top:338px;width:74px;background:#fff"><span class="g" style="width:28.11px;height:16px"><i style="left:0.00px;transform:scaleX(1.081)">#N/A</i></span></div>
<div class="c r" style="left:512px;top:338px;width:74px;background:#ffffc0"><span class="g" style="width:30.39px;height:16px"><i style="left:0.00px;transform:scaleX(1.038)">40.00</i></span></div>
<div class="c r" style="left:586px;top:338px;width:46px;background:#e4e4e4"></div>
<div class="c r" style="left:632px;top:338px;width:87px;background:#fff"><span class="g" style="width:23.63px;height:16px"><i style="left:0.00px;transform:scaleX(1.038)">1.00</i></span></div>
<div class="c r" style="left:719px;top:338px;width:74px;background:#e4e4e4"><span class="g" style="width:28.11px;height:16px"><i style="left:0.00px;transform:scaleX(1.081)">#N/A</i></span></div>
<div class="c l" style="left:793px;top:338px;width:108px;background:#ffffc0"><span class="g" style="width:37.15px;height:16px"><i style="left:0.00px;transform:scaleX(1.038)">010.07</i></span><span style="position:absolute;left:47.7px;top:0"><span class="g" style="width:103.69px;height:16px"><i style="left:0.00px;transform:scaleX(0.999)">[MO LEVAGE, MAN</i></span></span></div>
<div class="c r" style="left:901px;top:338px;width:108px;background:#fff"><span class="g" style="width:28.11px;height:16px"><i style="left:0.00px;transform:scaleX(1.081)">#N/A</i></span></div>
<div class="c r" style="left:1009px;top:338px;width:74px;background:#e4e4e4"><span class="g" style="width:28.11px;height:16px"><i style="left:0.00px;transform:scaleX(1.081)">#N/A</i></span></div>
<div class="c l" style="left:1083px;top:338px;width:74px;background:#fff"></div>
<div class="c r" style="left:1157px;top:338px;width:33px;background:#fff"></div>
<div class="c r" style="left:1190px;top:338px;width:176px;background:#fff"></div>
<div class="c r" style="left:365px;top:356px;width:33px;background:#d3d3d3"></div>
<div class="c m" style="left:398px;top:356px;width:40px;background:#e6e6e6"><span class="g" style="width:6.76px;height:16px"><i style="left:0.00px;transform:scaleX(1.039)">6</i></span></div>
<div class="c r" style="left:438px;top:356px;width:74px;background:#fff"><span class="g" style="width:28.11px;height:16px"><i style="left:0.00px;transform:scaleX(1.081)">#N/A</i></span></div>
<div class="c r" style="left:512px;top:356px;width:74px;background:#ffffc0"><span class="g" style="width:23.63px;height:16px"><i style="left:0.00px;transform:scaleX(1.038)">2.60</i></span></div>
<div class="c r" style="left:586px;top:356px;width:46px;background:#e4e4e4"></div>
<div class="c r" style="left:632px;top:356px;width:87px;background:#fff"><span class="g" style="width:23.63px;height:16px"><i style="left:0.00px;transform:scaleX(1.038)">1.00</i></span></div>
<div class="c r" style="left:719px;top:356px;width:74px;background:#e4e4e4"><span class="g" style="width:28.11px;height:16px"><i style="left:0.00px;transform:scaleX(1.081)">#N/A</i></span></div>
<div class="c l" style="left:793px;top:356px;width:108px;background:#ffffc0"><span class="g" style="width:37.15px;height:16px"><i style="left:0.00px;transform:scaleX(1.038)">040.07</i></span><span style="position:absolute;left:47.7px;top:0"><span class="g" style="width:118.60px;height:16px"><i style="left:0.00px;transform:scaleX(0.937)">[PRODUITS EN BETON</i></span></span></div>
<div class="c r" style="left:901px;top:356px;width:108px;background:#fff"><span class="g" style="width:28.11px;height:16px"><i style="left:0.00px;transform:scaleX(1.081)">#N/A</i></span></div>
<div class="c r" style="left:1009px;top:356px;width:74px;background:#e4e4e4"><span class="g" style="width:28.11px;height:16px"><i style="left:0.00px;transform:scaleX(1.081)">#N/A</i></span></div>
<div class="c l" style="left:1083px;top:356px;width:74px;background:#fff"></div>
<div class="c r" style="left:1157px;top:356px;width:33px;background:#fff"></div>
<div class="c r" style="left:1190px;top:356px;width:176px;background:#fff"></div>
<div class="c r" style="left:365px;top:374px;width:33px;background:#d3d3d3"></div>
<div class="c m" style="left:398px;top:374px;width:40px;background:#e6e6e6"><span class="g" style="width:6.76px;height:16px"><i style="left:0.00px;transform:scaleX(1.039)">7</i></span></div>
<div class="c r" style="left:438px;top:374px;width:74px;background:#fff"><span class="g" style="width:28.11px;height:16px"><i style="left:0.00px;transform:scaleX(1.081)">#N/A</i></span></div>
<div class="c r" style="left:512px;top:374px;width:74px;background:#ffffc0"><span class="g" style="width:30.39px;height:16px"><i style="left:0.00px;transform:scaleX(1.038)">81.00</i></span></div>
<div class="c r" style="left:586px;top:374px;width:46px;background:#e4e4e4"></div>
<div class="c r" style="left:632px;top:374px;width:87px;background:#fff"><span class="g" style="width:23.63px;height:16px"><i style="left:0.00px;transform:scaleX(1.038)">1.00</i></span></div>
<div class="c r" style="left:719px;top:374px;width:74px;background:#e4e4e4"><span class="g" style="width:28.11px;height:16px"><i style="left:0.00px;transform:scaleX(1.081)">#N/A</i></span></div>
<div class="c l" style="left:793px;top:374px;width:108px;background:#ffffc0"><span class="g" style="width:37.15px;height:16px"><i style="left:0.00px;transform:scaleX(1.038)">030.21</i></span><span style="position:absolute;left:47.7px;top:0"><span class="g" style="width:91.06px;height:16px"><i style="left:0.00px;transform:scaleX(0.973)">[BARAQUEMENT</i></span></span></div>
<div class="c r" style="left:901px;top:374px;width:108px;background:#fff"><span class="g" style="width:28.11px;height:16px"><i style="left:0.00px;transform:scaleX(1.081)">#N/A</i></span></div>
<div class="c r" style="left:1009px;top:374px;width:74px;background:#e4e4e4"><span class="g" style="width:28.11px;height:16px"><i style="left:0.00px;transform:scaleX(1.081)">#N/A</i></span></div>
<div class="c l" style="left:1083px;top:374px;width:74px;background:#fff"></div>
<div class="c r" style="left:1157px;top:374px;width:33px;background:#fff"></div>
<div class="c r" style="left:1190px;top:374px;width:176px;background:#fff"></div>
<div class="c r" style="left:365px;top:392px;width:33px;background:#d3d3d3"></div>
<div class="a" style="left:381.2px;top:402.1px;width:3px;height:1.2px;background:#111"></div>
<div class="c m bb" style="left:398px;top:392px;width:40px;background:#e6e6e6"><span class="g" style="width:6.76px;height:16px"><i style="left:0.00px;transform:scaleX(1.039)">8</i></span></div>
<div class="c r bb" style="left:438px;top:392px;width:74px;background:#fff"><span class="g" style="width:29.23px;height:16px"><i style="left:0.00px;transform:scaleX(1.097)">#N/A</i></span></div>
<div class="c r" style="left:512px;top:392px;width:74px;background:#ffffc0"></div>
<div class="c r" style="left:586px;top:392px;width:46px;background:#e4e4e4"></div>
<div class="c r" style="left:632px;top:392px;width:87px;background:#fff"><span class="g" style="width:23.63px;height:16px"><i style="left:0.00px;transform:scaleX(1.038)">1.00</i></span></div>
<div class="c r" style="left:719px;top:392px;width:74px;background:#e4e4e4"><span class="g" style="width:28.11px;height:16px"><i style="left:0.00px;transform:scaleX(1.081)">#N/A</i></span></div>
<div class="c l" style="left:793px;top:392px;width:108px;background:#ffffc0"></div>
<div class="c r bb" style="left:901px;top:392px;width:108px;background:#fff"><span class="g" style="width:29.23px;height:16px"><i style="left:0.00px;transform:scaleX(1.097)">#N/A</i></span></div>
<div class="c r" style="left:1009px;top:392px;width:74px;background:#e4e4e4"><span class="g" style="width:28.11px;height:16px"><i style="left:0.00px;transform:scaleX(1.081)">#N/A</i></span></div>
<div class="c l" style="left:1083px;top:392px;width:74px;background:#fff"></div>
<div class="c r" style="left:1157px;top:392px;width:33px;background:#fff"></div>
<div class="c r" style="left:1190px;top:392px;width:176px;background:#fff"></div>
<div class="c r" style="left:365px;top:410px;width:33px;background:#d3d3d3"></div>
<div class="c m" style="left:398px;top:410px;width:40px;background:#c5dde6"><span class="g" style="width:6.76px;height:16px"><i style="left:0.00px;transform:scaleX(1.039)">9</i></span></div>
<div class="c r" style="left:438px;top:410px;width:74px;background:#add8e6"><span class="g" style="width:28.11px;height:16px"><i style="left:0.00px;transform:scaleX(1.081)">#N/A</i></span></div>
<div class="c r" style="left:512px;top:410px;width:74px;background:#d5ebd4"><span class="g" style="width:30.39px;height:16px"><i style="left:0.00px;transform:scaleX(1.038)">40.00</i></span></div>
<div class="c r" style="left:586px;top:410px;width:46px;background:#c5dde6"></div>
<div class="c r" style="left:632px;top:410px;width:87px;background:#add8e6"><span class="g" style="width:23.63px;height:16px"><i style="left:0.00px;transform:scaleX(1.038)">1.00</i></span></div>
<div class="c r" style="left:719px;top:410px;width:74px;background:#c5dde6"><span class="g" style="width:28.11px;height:16px"><i style="left:0.00px;transform:scaleX(1.081)">#N/A</i></span></div>
<div class="c l" style="left:793px;top:410px;width:108px;background:#d5ebd4"><span class="g" style="width:37.15px;height:16px"><i style="left:0.00px;transform:scaleX(1.038)">010.01</i></span><span style="position:absolute;left:47.7px;top:0"><span class="g" style="width:125.86px;height:16px"><i style="left:0.00px;transform:scaleX(0.968)">[M.O. DE PRODUCTION</i></span></span></div>
<div class="c r" style="left:901px;top:410px;width:108px;background:#add8e6"><span class="g" style="width:28.11px;height:16px"><i style="left:0.00px;transform:scaleX(1.081)">#N/A</i></span></div>
<div class="c r" style="left:1009px;top:410px;width:74px;background:#c5dde6"><span class="g" style="width:28.11px;height:16px"><i style="left:0.00px;transform:scaleX(1.081)">#N/A</i></span></div>
<div class="c l" style="left:1083px;top:410px;width:74px;background:#add8e6"></div>
<div class="c r" style="left:1157px;top:410px;width:33px;background:#add8e6"></div>
<div class="c r" style="left:1190px;top:410px;width:176px;background:#add8e6"></div>
<div class="c r" style="left:365px;top:428px;width:33px;background:#d3d3d3"></div>
<div class="c m" style="left:398px;top:428px;width:40px;background:#c5dde6"><span class="g" style="width:13.52px;height:16px"><i style="left:0.00px;transform:scaleX(1.039)">10</i></span></div>
<div class="c r" style="left:438px;top:428px;width:74px;background:#add8e6"><span class="g" style="width:28.11px;height:16px"><i style="left:0.00px;transform:scaleX(1.081)">#N/A</i></span></div>
<div class="c r" style="left:512px;top:428px;width:74px;background:#d5ebd4"><span class="g" style="width:23.63px;height:16px"><i style="left:0.00px;transform:scaleX(1.038)">9.50</i></span></div>
<div class="c r" style="left:586px;top:428px;width:46px;background:#c5dde6"></div>
<div class="c r" style="left:632px;top:428px;width:87px;background:#add8e6"><span class="g" style="width:23.63px;height:16px"><i style="left:0.00px;transform:scaleX(1.038)">1.00</i></span></div>
<div class="c r" style="left:719px;top:428px;width:74px;background:#c5dde6"><span class="g" style="width:28.11px;height:16px"><i style="left:0.00px;transform:scaleX(1.081)">#N/A</i></span></div>
<div class="c l" style="left:793px;top:428px;width:108px;background:#d5ebd4"><span class="g" style="width:37.15px;height:16px"><i style="left:0.00px;transform:scaleX(1.038)">040.23</i></span><span style="position:absolute;left:47.7px;top:0"><span class="g" style="width:97.92px;height:16px"><i style="left:0.00px;transform:scaleX(0.947)">[CIMENTS, LIANTS</i></span></span></div>
<div class="c r" style="left:901px;top:428px;width:108px;background:#add8e6"><span class="g" style="width:28.11px;height:16px"><i style="left:0.00px;transform:scaleX(1.081)">#N/A</i></span></div>
<div class="c r" style="left:1009px;top:428px;width:74px;background:#c5dde6"><span class="g" style="width:28.11px;height:16px"><i style="left:0.00px;transform:scaleX(1.081)">#N/A</i></span></div>
<div class="c l" style="left:1083px;top:428px;width:74px;background:#add8e6"></div>
<div class="c r" style="left:1157px;top:428px;width:33px;background:#add8e6"></div>
<div class="c r" style="left:1190px;top:428px;width:176px;background:#add8e6"></div>
<div class="c r" style="left:365px;top:446px;width:33px;background:#d3d3d3"></div>
<div class="c m" style="left:398px;top:446px;width:40px;background:#c5dde6"><span class="g" style="width:13.52px;height:16px"><i style="left:0.00px;transform:scaleX(1.113)">11</i></span></div>
<div class="c r" style="left:438px;top:446px;width:74px;background:#add8e6"><span class="g" style="width:28.11px;height:16px"><i style="left:0.00px;transform:scaleX(1.081)">#N/A</i></span></div>
<div class="c r" style="left:512px;top:446px;width:74px;background:#d5ebd4"><span class="g" style="width:23.63px;height:16px"><i style="left:0.00px;transform:scaleX(1.038)">2.60</i></span></div>
<div class="c r" style="left:586px;top:446px;width:46px;background:#c5dde6"></div>
<div class="c r" style="left:632px;top:446px;width:87px;background:#add8e6"><span class="g" style="width:23.63px;height:16px"><i style="left:0.00px;transform:scaleX(1.038)">1.00</i></span></div>
<div class="c r" style="left:719px;top:446px;width:74px;background:#c5dde6"><span class="g" style="width:28.11px;height:16px"><i style="left:0.00px;transform:scaleX(1.081)">#N/A</i></span></div>
<div class="c l" style="left:793px;top:446px;width:108px;background:#d5ebd4"><span class="g" style="width:37.15px;height:16px"><i style="left:0.00px;transform:scaleX(1.038)">040.07</i></span><span style="position:absolute;left:47.7px;top:0"><span class="g" style="width:118.60px;height:16px"><i style="left:0.00px;transform:scaleX(0.937)">[PRODUITS EN BETON</i></span></span></div>
<div class="c r" style="left:901px;top:446px;width:108px;background:#add8e6"><span class="g" style="width:28.11px;height:16px"><i style="left:0.00px;transform:scaleX(1.081)">#N/A</i></span></div>
<div class="c r" style="left:1009px;top:446px;width:74px;background:#c5dde6"><span class="g" style="width:28.11px;height:16px"><i style="left:0.00px;transform:scaleX(1.081)">#N/A</i></span></div>
<div class="c l" style="left:1083px;top:446px;width:74px;background:#add8e6"></div>
<div class="c r" style="left:1157px;top:446px;width:33px;background:#add8e6"></div>
<div class="c r" style="left:1190px;top:446px;width:176px;background:#add8e6"></div>
<div class="c r" style="left:365px;top:464px;width:33px;background:#d3d3d3"></div>
<div class="c m" style="left:398px;top:464px;width:40px;background:#c5dde6"><span class="g" style="width:13.52px;height:16px"><i style="left:0.00px;transform:scaleX(1.039)">12</i></span></div>
<div class="c r" style="left:438px;top:464px;width:74px;background:#add8e6"><span class="g" style="width:28.11px;height:16px"><i style="left:0.00px;transform:scaleX(1.081)">#N/A</i></span></div>
<div class="c r" style="left:512px;top:464px;width:74px;background:#d5ebd4"><span class="g" style="width:37.15px;height:16px"><i style="left:0.00px;transform:scaleX(1.038)">400.00</i></span></div>
<div class="c r" style="left:586px;top:464px;width:46px;background:#c5dde6"></div>
<div class="c r" style="left:632px;top:464px;width:87px;background:#add8e6"><span class="g" style="width:23.63px;height:16px"><i style="left:0.00px;transform:scaleX(1.038)">1.00</i></span></div>
<div class="c r" style="left:719px;top:464px;width:74px;background:#c5dde6"><span class="g" style="width:28.11px;height:16px"><i style="left:0.00px;transform:scaleX(1.081)">#N/A</i></span></div>
<div class="c l" style="left:793px;top:464px;width:108px;background:#d5ebd4"><span class="g" style="width:37.15px;height:16px"><i style="left:0.00px;transform:scaleX(1.064)">050.11</i></span><span style="position:absolute;left:47.7px;top:0"><span class="g" style="width:99.56px;height:16px"><i style="left:0.00px;transform:scaleX(0.963)">[CONSOMMABLES</i></span></span></div>
<div class="c r" style="left:901px;top:464px;width:108px;background:#add8e6"><span class="g" style="width:28.11px;height:16px"><i style="left:0.00px;transform:scaleX(1.081)">#N/A</i></span></div>
<div class="c r" style="left:1009px;top:464px;width:74px;background:#c5dde6"><span class="g" style="width:28.11px;height:16px"><i style="left:0.00px;transform:scaleX(1.081)">#N/A</i></span></div>
<div class="c l" style="left:1083px;top:464px;width:74px;background:#add8e6"></div>
<div class="c r" style="left:1157px;top:464px;width:33px;background:#add8e6"></div>
<div class="c r" style="left:1190px;top:464px;width:176px;background:#add8e6"></div>
<div class="c r" style="left:365px;top:482px;width:33px;background:#d3d3d3"></div>
<div class="c m" style="left:398px;top:482px;width:40px;background:#c5dde6"><span class="g" style="width:13.52px;height:16px"><i style="left:0.00px;transform:scaleX(1.039)">13</i></span></div>
<div class="c r" style="left:438px;top:482px;width:74px;background:#add8e6"><span class="g" style="width:28.11px;height:16px"><i style="left:0.00px;transform:scaleX(1.081)">#N/A</i></span></div>
<div class="c r" style="left:512px;top:482px;width:74px;background:#d5ebd4"><span class="g" style="width:23.63px;height:16px"><i style="left:0.00px;transform:scaleX(1.038)">4.50</i></span></div>
<div class="c r" style="left:586px;top:482px;width:46px;background:#c5dde6"></div>
<div class="c r" style="left:632px;top:482px;width:87px;background:#add8e6"><span class="g" style="width:23.63px;height:16px"><i style="left:0.00px;transform:scaleX(1.038)">1.00</i></span></div>
<div class="c r" style="left:719px;top:482px;width:74px;background:#c5dde6"><span class="g" style="width:28.11px;height:16px"><i style="left:0.00px;transform:scaleX(1.081)">#N/A</i></span></div>
<div class="c l" style="left:793px;top:482px;width:108px;background:#d5ebd4"><span class="g" style="width:37.15px;height:16px"><i style="left:0.00px;transform:scaleX(1.064)">050.11</i></span><span style="position:absolute;left:47.7px;top:0"><span class="g" style="width:99.56px;height:16px"><i style="left:0.00px;transform:scaleX(0.963)">[CONSOMMABLES</i></span></span></div>
<div class="c r" style="left:901px;top:482px;width:108px;background:#add8e6"><span class="g" style="width:28.11px;height:16px"><i style="left:0.00px;transform:scaleX(1.081)">#N/A</i></span></div>
<div class="c r" style="left:1009px;top:482px;width:74px;background:#c5dde6"><span class="g" style="width:28.11px;height:16px"><i style="left:0.00px;transform:scaleX(1.081)">#N/A</i></span></div>
<div class="c l" style="left:1083px;top:482px;width:74px;background:#add8e6"></div>
<div class="c r" style="left:1157px;top:482px;width:33px;background:#add8e6"></div>
<div class="c r" style="left:1190px;top:482px;width:176px;background:#add8e6"></div>
<div class="c r" style="left:365px;top:500px;width:33px;background:#d3d3d3"></div>
<div class="c m" style="left:398px;top:500px;width:40px;background:#c5dde6"><span class="g" style="width:13.52px;height:16px"><i style="left:0.00px;transform:scaleX(1.039)">14</i></span></div>
<div class="c r" style="left:438px;top:500px;width:74px;background:#add8e6"><span class="g" style="width:28.11px;height:16px"><i style="left:0.00px;transform:scaleX(1.081)">#N/A</i></span></div>
<div class="c r" style="left:512px;top:500px;width:74px;background:#d5ebd4"><span class="g" style="width:37.15px;height:16px"><i style="left:0.00px;transform:scaleX(1.038)">410.00</i></span></div>
<div class="c r" style="left:586px;top:500px;width:46px;background:#c5dde6"></div>
<div class="c r" style="left:632px;top:500px;width:87px;background:#add8e6"><span class="g" style="width:23.63px;height:16px"><i style="left:0.00px;transform:scaleX(1.038)">1.00</i></span></div>
<div class="c r" style="left:719px;top:500px;width:74px;background:#c5dde6"><span class="g" style="width:28.11px;height:16px"><i style="left:0.00px;transform:scaleX(1.081)">#N/A</i></span></div>
<div class="c l" style="left:793px;top:500px;width:108px;background:#d5ebd4"><span class="g" style="width:37.15px;height:16px"><i style="left:0.00px;transform:scaleX(1.038)">030.13</i></span><span style="position:absolute;left:47.7px;top:0"><span class="g" style="width:95.51px;height:16px"><i style="left:0.00px;transform:scaleX(0.982)">[LEVAGE, MANUT</i></span></span></div>
<div class="c r" style="left:901px;top:500px;width:108px;background:#add8e6"><span class="g" style="width:28.11px;height:16px"><i style="left:0.00px;transform:scaleX(1.081)">#N/A</i></span></div>
<div class="c r" style="left:1009px;top:500px;width:74px;background:#c5dde6"><span class="g" style="width:28.11px;height:16px"><i style="left:0.00px;transform:scaleX(1.081)">#N/A</i></span></div>
<div class="c l" style="left:1083px;top:500px;width:74px;background:#add8e6"></div>
<div class="c r" style="left:1157px;top:500px;width:33px;background:#add8e6"></div>
<div class="c r" style="left:1190px;top:500px;width:176px;background:#add8e6"></div>
<div class="c r" style="left:365px;top:518px;width:33px;background:#d3d3d3"></div>
<div class="a" style="left:381.2px;top:528.1px;width:3px;height:1.2px;background:#111"></div>
<div class="c m bb" style="left:398px;top:518px;width:40px;background:#e6e6e6"><span class="g" style="width:13.52px;height:16px"><i style="left:0.00px;transform:scaleX(1.039)">15</i></span></div>
<div class="c r bb" style="left:438px;top:518px;width:74px;background:#fff"><span class="g" style="width:29.23px;height:16px"><i style="left:0.00px;transform:scaleX(1.097)">#N/A</i></span></div>
<div class="c r" style="left:512px;top:518px;width:74px;background:#ffffc0"></div>
<div class="c r" style="left:586px;top:518px;width:46px;background:#e4e4e4"></div>
<div class="c r" style="left:632px;top:518px;width:87px;background:#fff"><span class="g" style="width:23.63px;height:16px"><i style="left:0.00px;transform:scaleX(1.038)">1.00</i></span></div>
<div class="c r" style="left:719px;top:518px;width:74px;background:#e4e4e4"><span class="g" style="width:28.11px;height:16px"><i style="left:0.00px;transform:scaleX(1.081)">#N/A</i></span></div>
<div class="c l" style="left:793px;top:518px;width:108px;background:#ffffc0"></div>
<div class="c r bb" style="left:901px;top:518px;width:108px;background:#fff"><span class="g" style="width:29.23px;height:16px"><i style="left:0.00px;transform:scaleX(1.097)">#N/A</i></span></div>
<div class="c r" style="left:1009px;top:518px;width:74px;background:#e4e4e4"><span class="g" style="width:28.11px;height:16px"><i style="left:0.00px;transform:scaleX(1.081)">#N/A</i></span></div>
<div class="c l" style="left:1083px;top:518px;width:74px;background:#fff"></div>
<div class="c r" style="left:1157px;top:518px;width:33px;background:#fff"></div>
<div class="c r" style="left:1190px;top:518px;width:176px;background:#fff"></div>
<div class="c r" style="left:365px;top:536px;width:33px;background:#d3d3d3"></div>
<div class="c m" style="left:398px;top:536px;width:40px;background:#c5dde6"><span class="g" style="width:13.52px;height:16px"><i style="left:0.00px;transform:scaleX(1.039)">16</i></span></div>
<div class="c r" style="left:438px;top:536px;width:74px;background:#add8e6"><span class="g" style="width:28.11px;height:16px"><i style="left:0.00px;transform:scaleX(1.081)">#N/A</i></span></div>
<div class="c r" style="left:512px;top:536px;width:74px;background:#d5ebd4"><span class="g" style="width:30.39px;height:16px"><i style="left:0.00px;transform:scaleX(1.038)">40.00</i></span></div>
<div class="c r" style="left:586px;top:536px;width:46px;background:#c5dde6"></div>
<div class="c r" style="left:632px;top:536px;width:87px;background:#add8e6"><span class="g" style="width:23.63px;height:16px"><i style="left:0.00px;transform:scaleX(1.038)">1.00</i></span></div>
<div class="c r" style="left:719px;top:536px;width:74px;background:#c5dde6"><span class="g" style="width:28.11px;height:16px"><i style="left:0.00px;transform:scaleX(1.081)">#N/A</i></span></div>
<div class="c l" style="left:793px;top:536px;width:108px;background:#d5ebd4"><span class="g" style="width:37.15px;height:16px"><i style="left:0.00px;transform:scaleX(1.038)">010.01</i></span><span style="position:absolute;left:47.7px;top:0"><span class="g" style="width:125.86px;height:16px"><i style="left:0.00px;transform:scaleX(0.968)">[M.O. DE PRODUCTION</i></span></span></div>
<div class="c r" style="left:901px;top:536px;width:108px;background:#add8e6"><span class="g" style="width:28.11px;height:16px"><i style="left:0.00px;transform:scaleX(1.081)">#N/A</i></span></div>
<div class="c r" style="left:1009px;top:536px;width:74px;background:#c5dde6"><span class="g" style="width:28.11px;height:16px"><i style="left:0.00px;transform:scaleX(1.081)">#N/A</i></span></div>
<div class="c l" style="left:1083px;top:536px;width:74px;background:#add8e6"></div>
<div class="c r" style="left:1157px;top:536px;width:33px;background:#add8e6"></div>
<div class="c r" style="left:1190px;top:536px;width:176px;background:#add8e6"></div>
<div class="c r" style="left:365px;top:554px;width:33px;background:#d3d3d3"></div>
<div class="c m" style="left:398px;top:554px;width:40px;background:#c5dde6"><span class="g" style="width:13.52px;height:16px"><i style="left:0.00px;transform:scaleX(1.039)">17</i></span></div>
<div class="c r" style="left:438px;top:554px;width:74px;background:#add8e6"><span class="g" style="width:28.11px;height:16px"><i style="left:0.00px;transform:scaleX(1.081)">#N/A</i></span></div>
<div class="c r" style="left:512px;top:554px;width:74px;background:#d5ebd4"><span class="g" style="width:23.63px;height:16px"><i style="left:0.00px;transform:scaleX(1.038)">9.50</i></span></div>
<div class="c r" style="left:586px;top:554px;width:46px;background:#c5dde6"></div>
<div class="c r" style="left:632px;top:554px;width:87px;background:#add8e6"><span class="g" style="width:23.63px;height:16px"><i style="left:0.00px;transform:scaleX(1.038)">1.00</i></span></div>
<div class="c r" style="left:719px;top:554px;width:74px;background:#c5dde6"><span class="g" style="width:28.11px;height:16px"><i style="left:0.00px;transform:scaleX(1.081)">#N/A</i></span></div>
<div class="c l" style="left:793px;top:554px;width:108px;background:#d5ebd4"><span class="g" style="width:37.15px;height:16px"><i style="left:0.00px;transform:scaleX(1.038)">040.23</i></span><span style="position:absolute;left:47.7px;top:0"><span class="g" style="width:97.92px;height:16px"><i style="left:0.00px;transform:scaleX(0.947)">[CIMENTS, LIANTS</i></span></span></div>
<div class="c r" style="left:901px;top:554px;width:108px;background:#add8e6"><span class="g" style="width:28.11px;height:16px"><i style="left:0.00px;transform:scaleX(1.081)">#N/A</i></span></div>
<div class="c r" style="left:1009px;top:554px;width:74px;background:#c5dde6"><span class="g" style="width:28.11px;height:16px"><i style="left:0.00px;transform:scaleX(1.081)">#N/A</i></span></div>
<div class="c l" style="left:1083px;top:554px;width:74px;background:#add8e6"></div>
<div class="c r" style="left:1157px;top:554px;width:33px;background:#add8e6"></div>
<div class="c r" style="left:1190px;top:554px;width:176px;background:#add8e6"></div>
<div class="c r" style="left:365px;top:572px;width:33px;background:#d3d3d3"></div>
<div class="c m" style="left:398px;top:572px;width:40px;background:#c5dde6"><span class="g" style="width:13.52px;height:16px"><i style="left:0.00px;transform:scaleX(1.039)">18</i></span></div>
<div class="c r" style="left:438px;top:572px;width:74px;background:#add8e6"><span class="g" style="width:28.11px;height:16px"><i style="left:0.00px;transform:scaleX(1.081)">#N/A</i></span></div>
<div class="c r" style="left:512px;top:572px;width:74px;background:#d5ebd4"><span class="g" style="width:23.63px;height:16px"><i style="left:0.00px;transform:scaleX(1.038)">2.60</i></span></div>
<div class="c r" style="left:586px;top:572px;width:46px;background:#c5dde6"></div>
<div class="c r" style="left:632px;top:572px;width:87px;background:#add8e6"><span class="g" style="width:23.63px;height:16px"><i style="left:0.00px;transform:scaleX(1.038)">1.00</i></span></div>
<div class="c r" style="left:719px;top:572px;width:74px;background:#c5dde6"><span class="g" style="width:28.11px;height:16px"><i style="left:0.00px;transform:scaleX(1.081)">#N/A</i></span></div>
<div class="c l" style="left:793px;top:572px;width:108px;background:#d5ebd4"><span class="g" style="width:37.15px;height:16px"><i style="left:0.00px;transform:scaleX(1.038)">040.07</i></span><span style="position:absolute;left:47.7px;top:0"><span class="g" style="width:118.60px;height:16px"><i style="left:0.00px;transform:scaleX(0.937)">[PRODUITS EN BETON</i></span></span></div>
<div class="c r" style="left:901px;top:572px;width:108px;background:#add8e6"><span class="g" style="width:28.11px;height:16px"><i style="left:0.00px;transform:scaleX(1.081)">#N/A</i></span></div>
<div class="c r" style="left:1009px;top:572px;width:74px;background:#c5dde6"><span class="g" style="width:28.11px;height:16px"><i style="left:0.00px;transform:scaleX(1.081)">#N/A</i></span></div>
<div class="c l" style="left:1083px;top:572px;width:74px;background:#add8e6"></div>
<div class="c r" style="left:1157px;top:572px;width:33px;background:#add8e6"></div>
<div class="c r" style="left:1190px;top:572px;width:176px;background:#add8e6"></div>
<div class="c r" style="left:365px;top:590px;width:33px;background:#d3d3d3"></div>
<div class="c m" style="left:398px;top:590px;width:40px;background:#c5dde6"><span class="g" style="width:13.52px;height:16px"><i style="left:0.00px;transform:scaleX(1.039)">19</i></span></div>
<div class="c r" style="left:438px;top:590px;width:74px;background:#add8e6"><span class="g" style="width:28.11px;height:16px"><i style="left:0.00px;transform:scaleX(1.081)">#N/A</i></span></div>
<div class="c r" style="left:512px;top:590px;width:74px;background:#d5ebd4"><span class="g" style="width:37.15px;height:16px"><i style="left:0.00px;transform:scaleX(1.038)">400.00</i></span></div>
<div class="c r" style="left:586px;top:590px;width:46px;background:#c5dde6"></div>
<div class="c r" style="left:632px;top:590px;width:87px;background:#add8e6"><span class="g" style="width:23.63px;height:16px"><i style="left:0.00px;transform:scaleX(1.038)">1.00</i></span></div>
<div class="c r" style="left:719px;top:590px;width:74px;background:#c5dde6"><span class="g" style="width:28.11px;height:16px"><i style="left:0.00px;transform:scaleX(1.081)">#N/A</i></span></div>
<div class="c l" style="left:793px;top:590px;width:108px;background:#d5ebd4"><span class="g" style="width:37.15px;height:16px"><i style="left:0.00px;transform:scaleX(1.064)">050.11</i></span><span style="position:absolute;left:47.7px;top:0"><span class="g" style="width:99.56px;height:16px"><i style="left:0.00px;transform:scaleX(0.963)">[CONSOMMABLES</i></span></span></div>
<div class="c r" style="left:901px;top:590px;width:108px;background:#add8e6"><span class="g" style="width:28.11px;height:16px"><i style="left:0.00px;transform:scaleX(1.081)">#N/A</i></span></div>
<div class="c r" style="left:1009px;top:590px;width:74px;background:#c5dde6"><span class="g" style="width:28.11px;height:16px"><i style="left:0.00px;transform:scaleX(1.081)">#N/A</i></span></div>
<div class="c l" style="left:1083px;top:590px;width:74px;background:#add8e6"></div>
<div class="c r" style="left:1157px;top:590px;width:33px;background:#add8e6"></div>
<div class="c r" style="left:1190px;top:590px;width:176px;background:#add8e6"></div>
<div class="c r" style="left:365px;top:608px;width:33px;background:#d3d3d3"></div>
<div class="c m" style="left:398px;top:608px;width:40px;background:#c5dde6"><span class="g" style="width:13.52px;height:16px"><i style="left:0.00px;transform:scaleX(1.039)">20</i></span></div>
<div class="c r" style="left:438px;top:608px;width:74px;background:#add8e6"><span class="g" style="width:28.11px;height:16px"><i style="left:0.00px;transform:scaleX(1.081)">#N/A</i></span></div>
<div class="c r" style="left:512px;top:608px;width:74px;background:#d5ebd4"><span class="g" style="width:23.63px;height:16px"><i style="left:0.00px;transform:scaleX(1.038)">4.50</i></span></div>
<div class="c r" style="left:586px;top:608px;width:46px;background:#c5dde6"></div>
<div class="c r" style="left:632px;top:608px;width:87px;background:#add8e6"><span class="g" style="width:23.63px;height:16px"><i style="left:0.00px;transform:scaleX(1.038)">1.00</i></span></div>
<div class="c r" style="left:719px;top:608px;width:74px;background:#c5dde6"><span class="g" style="width:28.11px;height:16px"><i style="left:0.00px;transform:scaleX(1.081)">#N/A</i></span></div>
<div class="c l" style="left:793px;top:608px;width:108px;background:#d5ebd4"><span class="g" style="width:37.15px;height:16px"><i style="left:0.00px;transform:scaleX(1.064)">050.11</i></span><span style="position:absolute;left:47.7px;top:0"><span class="g" style="width:99.56px;height:16px"><i style="left:0.00px;transform:scaleX(0.963)">[CONSOMMABLES</i></span></span></div>
<div class="c r" style="left:901px;top:608px;width:108px;background:#add8e6"><span class="g" style="width:28.11px;height:16px"><i style="left:0.00px;transform:scaleX(1.081)">#N/A</i></span></div>
<div class="c r" style="left:1009px;top:608px;width:74px;background:#c5dde6"><span class="g" style="width:28.11px;height:16px"><i style="left:0.00px;transform:scaleX(1.081)">#N/A</i></span></div>
<div class="c l" style="left:1083px;top:608px;width:74px;background:#add8e6"></div>
<div class="c r" style="left:1157px;top:608px;width:33px;background:#add8e6"></div>
<div class="c r" style="left:1190px;top:608px;width:176px;background:#add8e6"></div>
<div class="c r" style="left:365px;top:626px;width:33px;background:#d3d3d3"></div>
<div class="c m" style="left:398px;top:626px;width:40px;background:#c5dde6"><span class="g" style="width:13.52px;height:16px"><i style="left:0.00px;transform:scaleX(1.039)">21</i></span></div>
<div class="c r" style="left:438px;top:626px;width:74px;background:#add8e6"><span class="g" style="width:28.11px;height:16px"><i style="left:0.00px;transform:scaleX(1.081)">#N/A</i></span></div>
<div class="c r" style="left:512px;top:626px;width:74px;background:#d5ebd4"></div>
<div class="c r" style="left:586px;top:626px;width:46px;background:#c5dde6"></div>
<div class="c r" style="left:632px;top:626px;width:87px;background:#add8e6"><span class="g" style="width:23.63px;height:16px"><i style="left:0.00px;transform:scaleX(1.038)">1.00</i></span></div>
<div class="c r" style="left:719px;top:626px;width:74px;background:#c5dde6"><span class="g" style="width:28.11px;height:16px"><i style="left:0.00px;transform:scaleX(1.081)">#N/A</i></span></div>
<div class="c l" style="left:793px;top:626px;width:108px;background:#d5ebd4"></div>
<div class="c r" style="left:901px;top:626px;width:108px;background:#add8e6"><span class="g" style="width:28.11px;height:16px"><i style="left:0.00px;transform:scaleX(1.081)">#N/A</i></span></div>
<div class="c r" style="left:1009px;top:626px;width:74px;background:#c5dde6"><span class="g" style="width:28.11px;height:16px"><i style="left:0.00px;transform:scaleX(1.081)">#N/A</i></span></div>
<div class="c l" style="left:1083px;top:626px;width:74px;background:#add8e6"></div>
<div class="c r" style="left:1157px;top:626px;width:33px;background:#add8e6"></div>
<div class="c r" style="left:1190px;top:626px;width:176px;background:#add8e6"></div>
<div class="a" style="left:398px;top:266px;width:968px;height:1px;background:#d2cfd0"></div>
<div class="a" style="left:366px;top:266px;width:32px;height:1px;background:#000"></div>
<div class="a" style="left:398px;top:284px;width:968px;height:1px;background:#d2cfd0"></div>
<div class="a" style="left:366px;top:284px;width:32px;height:1px;background:#000"></div>
<div class="a" style="left:398px;top:302px;width:968px;height:1px;background:#d2cfd0"></div>
<div class="a" style="left:366px;top:302px;width:32px;height:1px;background:#000"></div>
<div class="a" style="left:398px;top:320px;width:968px;height:1px;background:#d2cfd0"></div>
<div class="a" style="left:366px;top:320px;width:32px;height:1px;background:#000"></div>
<div class="a" style="left:398px;top:338px;width:968px;height:1px;background:#d2cfd0"></div>
<div class="a" style="left:366px;top:338px;width:32px;height:1px;background:#000"></div>
<div class="a" style="left:398px;top:356px;width:968px;height:1px;background:#d2cfd0"></div>
<div class="a" style="left:366px;top:356px;width:32px;height:1px;background:#000"></div>
<div class="a" style="left:398px;top:374px;width:968px;height:1px;background:#d2cfd0"></div>
<div class="a" style="left:366px;top:374px;width:32px;height:1px;background:#000"></div>
<div class="a" style="left:398px;top:392px;width:968px;height:1px;background:#d2cfd0"></div>
<div class="a" style="left:366px;top:392px;width:32px;height:1px;background:#000"></div>
<div class="a" style="left:398px;top:410px;width:968px;height:1px;background:#d2cfd0"></div>
<div class="a" style="left:366px;top:410px;width:32px;height:1px;background:#000"></div>
<div class="a" style="left:398px;top:428px;width:968px;height:1px;background:#d2cfd0"></div>
<div class="a" style="left:366px;top:428px;width:32px;height:1px;background:#000"></div>
<div class="a" style="left:398px;top:446px;width:968px;height:1px;background:#d2cfd0"></div>
<div class="a" style="left:366px;top:446px;width:32px;height:1px;background:#000"></div>
<div class="a" style="left:398px;top:464px;width:968px;height:1px;background:#d2cfd0"></div>
<div class="a" style="left:366px;top:464px;width:32px;height:1px;background:#000"></div>
<div class="a" style="left:398px;top:482px;width:968px;height:1px;background:#d2cfd0"></div>
<div class="a" style="left:366px;top:482px;width:32px;height:1px;background:#000"></div>
<div class="a" style="left:398px;top:500px;width:968px;height:1px;background:#d2cfd0"></div>
<div class="a" style="left:366px;top:500px;width:32px;height:1px;background:#000"></div>
<div class="a" style="left:398px;top:518px;width:968px;height:1px;background:#d2cfd0"></div>
<div class="a" style="left:366px;top:518px;width:32px;height:1px;background:#000"></div>
<div class="a" style="left:398px;top:536px;width:968px;height:1px;background:#d2cfd0"></div>
<div class="a" style="left:366px;top:536px;width:32px;height:1px;background:#000"></div>
<div class="a" style="left:398px;top:554px;width:968px;height:1px;background:#d2cfd0"></div>
<div class="a" style="left:366px;top:554px;width:32px;height:1px;background:#000"></div>
<div class="a" style="left:398px;top:572px;width:968px;height:1px;background:#d2cfd0"></div>
<div class="a" style="left:366px;top:572px;width:32px;height:1px;background:#000"></div>
<div class="a" style="left:398px;top:590px;width:968px;height:1px;background:#d2cfd0"></div>
<div class="a" style="left:366px;top:590px;width:32px;height:1px;background:#000"></div>
<div class="a" style="left:398px;top:608px;width:968px;height:1px;background:#d2cfd0"></div>
<div class="a" style="left:366px;top:608px;width:32px;height:1px;background:#000"></div>
<div class="a" style="left:398px;top:626px;width:968px;height:1px;background:#d2cfd0"></div>
<div class="a" style="left:366px;top:626px;width:32px;height:1px;background:#000"></div>
<div class="a" style="left:398px;top:644px;width:968px;height:1px;background:#d2cfd0"></div>
<div class="a" style="left:366px;top:644px;width:32px;height:1px;background:#000"></div>
<div class="a" style="left:364px;top:148px;width:1085px;height:1px;background:#aeb1ba"></div>
<div class="hl" style="left:366px;top:149px;width:1001px;height:1px"></div>
<div class="a" style="left:365px;top:149px;width:1px;height:479px;background:#dedede"></div>
<div class="hl" style="left:365px;top:183px;width:1002px"></div>
<div class="hl" style="left:365px;top:248px;width:1002px"></div>
<div class="vl" style="left:398px;top:149px;height:479px"></div>
<div class="vl" style="left:438px;top:149px;height:479px"></div>
<div class="vl" style="left:512px;top:149px;height:479px"></div>
<div class="vl" style="left:586px;top:149px;height:479px"></div>
<div class="vl" style="left:632px;top:149px;height:479px"></div>
<div class="vl" style="left:719px;top:183px;height:445px"></div>
<div class="vl" style="left:793px;top:149px;height:479px"></div>
<div class="vl" style="left:901px;top:183px;height:445px"></div>
<div class="vl" style="left:1009px;top:183px;height:445px"></div>
<div class="vl" style="left:1083px;top:149px;height:479px"></div>
<div class="vl" style="left:1157px;top:183px;height:445px"></div>
<div class="vl" style="left:1190px;top:183px;height:445px"></div>
<div class="vl" style="left:1366px;top:149px;height:479px"></div>
<div class="vl" style="left:437px;top:149px;height:479px"></div>
<div class="a" style="left:1082px;top:283px;width:362px;height:339px;background:#a9acb3"></div>
<div class="a" style="left:1084px;top:285px;width:359px;height:336px;background:#f5f5f5"></div>
<div class="a" style="left:1084px;top:285px;width:358px;height:336px;background:#fff;overflow:hidden">
<div class="a" style="left:1px;top:0;width:34px;height:336px;background:#f0f0f0"></div>
<div class="a" style="left:343px;top:0;width:16px;height:336px;background:#f0f0f0"></div>
<div class="a" style="left:343px;top:17px;width:16px;height:194px;background:#cdcdcd"></div>
<svg class="a" style="left:343px;top:0" width="16" height="336" viewBox="0 0 16 336"><path d="M4.4,10.4L8,6.4L11.6,10.4M4.4,324.6L8,328.6L11.6,324.6" fill="none" stroke="#505050" stroke-width="1.7"/></svg>
<div class="a" style="left:7.3px;top:53px;width:1.6px;height:107.5px;background:#a4a4a4"></div>
<div class="a" style="left:7.3px;top:159px;width:4px;height:1.6px;background:#a4a4a4"></div>
<div class="a" style="left:7.3px;top:197px;width:1.6px;height:140px;background:#a4a4a4"></div>
<div class="pc" style="left:37px;top:0.5px;width:42px;"></div>
<div class="pc" style="left:81px;top:0.5px;width:261px;"></div>
<div class="a" style="left:35px;top:18px;width:308px;height:1.3px;background:#cfcfcf"></div>
<div class="pc" style="left:37px;top:18.5px;width:42px;font-weight:bold;"><span class="g" style="width:20.27px;height:18px"><i style="left:0.00px;transform:scaleX(1.039)">000</i></span></div>
<div class="pc" style="left:81px;top:18.5px;width:261px;font-weight:bold;"><span class="g" style="width:63.23px;height:18px"><i style="left:0.00px;transform:scaleX(0.944)">OUVRAGES</i></span></div>
<div class="a" style="left:35px;top:36px;width:308px;height:1.3px;background:#cfcfcf"></div>
<div class="a" style="left:2px;top:20px;width:16px;height:15.5px;border:1px solid #adadad;background:#f2f2f2"></div>
<div class="a" style="left:7px;top:26.8px;width:6px;height:2px;background:#000"></div>
<div class="a" style="left:9px;top:24.8px;width:2px;height:6px;background:#000"></div>
<div class="pc" style="left:37px;top:36.5px;width:42px;font-weight:bold;"><span class="g" style="width:20.27px;height:18px"><i style="left:0.00px;transform:scaleX(1.039)">010</i></span></div>
<div class="pc" style="left:81px;top:36.5px;width:261px;font-weight:bold;"><span class="g" style="width:148.04px;height:18px"><i style="left:0.00px;transform:scaleX(0.980)">MAIN D'OEUVRE HORAIRE</i></span></div>
<div class="a" style="left:35px;top:54px;width:308px;height:1.3px;background:#cfcfcf"></div>
<div class="a" style="left:2px;top:38px;width:16px;height:15.5px;border:1px solid #adadad;background:#f2f2f2"></div>
<div class="a" style="left:7px;top:44.8px;width:6px;height:2px;background:#000"></div>
<div class="pc" style="left:37px;top:54.5px;width:42px;"><span class="g" style="width:37.15px;height:18px"><i style="left:0.00px;transform:scaleX(1.038)">010.01</i></span></div>
<div class="pc" style="left:81px;top:54.5px;width:261px;"><span class="g" style="width:123.23px;height:18px"><i style="left:0.00px;transform:scaleX(0.972)">M.O. DE PRODUCTION</i></span></div>
<div class="a" style="left:35px;top:72px;width:308px;height:1.3px;background:#cfcfcf"></div>
<div class="a" style="left:23px;top:62.8px;width:2px;height:2px;background:#a2a2a2"></div>
<div class="pc" style="left:37px;top:72.5px;width:42px;"><span class="g" style="width:37.15px;height:18px"><i style="left:0.00px;transform:scaleX(1.038)">010.03</i></span></div>
<div class="pc" style="left:81px;top:72.5px;width:261px;"><span class="g" style="width:196.12px;height:18px"><i style="left:0.00px;transform:scaleX(0.971)">PLUS VALUE TRAVAUX DE NUIT, WE</i></span></div>
<div class="a" style="left:35px;top:90px;width:308px;height:1.3px;background:#cfcfcf"></div>
<div class="a" style="left:23px;top:80.8px;width:2px;height:2px;background:#a2a2a2"></div>
<div class="pc" style="left:37px;top:90.5px;width:42px;"><span class="g" style="width:37.15px;height:18px"><i style="left:0.00px;transform:scaleX(1.038)">010.05</i></span></div>
<div class="pc" style="left:81px;top:90.5px;width:261px;"><span class="g" style="width:83.34px;height:18px"><i style="left:0.00px;transform:scaleX(0.974)">MO INSERTION</i></span></div>
<div class="a" style="left:35px;top:108px;width:308px;height:1.3px;background:#cfcfcf"></div>
<div class="a" style="left:23px;top:98.8px;width:2px;height:2px;background:#a2a2a2"></div>
<div class="pc" style="left:37px;top:108.5px;width:42px;"><span class="g" style="width:37.15px;height:18px"><i style="left:0.00px;transform:scaleX(1.038)">010.07</i></span></div>
<div class="pc" style="left:81px;top:108.5px;width:261px;"><span class="g" style="width:158.94px;height:18px"><i style="left:0.00px;transform:scaleX(0.991)">MO LEVAGE, MANUTENTION</i></span></div>
<div class="a" style="left:35px;top:126px;width:308px;height:1.3px;background:#cfcfcf"></div>
<div class="a" style="left:23px;top:116.8px;width:2px;height:2px;background:#a2a2a2"></div>
<div class="pc" style="left:37px;top:126.5px;width:42px;"><span class="g" style="width:37.15px;height:18px"><i style="left:0.00px;transform:scaleX(1.038)">010.09</i></span></div>
<div class="pc" style="left:81px;top:126.5px;width:261px;"><span class="g" style="width:158.08px;height:18px"><i style="left:0.00px;transform:scaleX(0.963)">MO CONDUCTEUR D'ENGINS</i></span></div>
<div class="a" style="left:35px;top:144px;width:308px;height:1.3px;background:#cfcfcf"></div>
<div class="a" style="left:23px;top:134.8px;width:2px;height:2px;background:#a2a2a2"></div>
<div class="pc" style="left:37px;top:144.5px;width:42px;"><span class="g" style="width:37.15px;height:18px"><i style="left:0.00px;transform:scaleX(1.064)">010.11</i></span></div>
<div class="pc" style="left:81px;top:144.5px;width:261px;"><span class="g" style="width:158.55px;height:18px"><i style="left:0.00px;transform:scaleX(0.945)">MO INDIRECTE DE CHANTIER</i></span></div>
<div class="a" style="left:35px;top:162px;width:308px;height:1.3px;background:#cfcfcf"></div>
<div class="a" style="left:23px;top:152.8px;width:2px;height:2px;background:#a2a2a2"></div>
<div class="pc" style="left:37px;top:162.5px;width:42px;font-weight:bold;"><span class="g" style="width:20.27px;height:18px"><i style="left:0.00px;transform:scaleX(1.039)">020</i></span></div>
<div class="pc" style="left:81px;top:162.5px;width:261px;font-weight:bold;"><span class="g" style="width:124.71px;height:18px"><i style="left:0.00px;transform:scaleX(0.937)">PERSONNEL MENSUEL</i></span></div>
<div class="a" style="left:35px;top:180px;width:308px;height:1.3px;background:#cfcfcf"></div>
<div class="a" style="left:2px;top:164px;width:16px;height:15.5px;border:1px solid #adadad;background:#f2f2f2"></div>
<div class="a" style="left:7px;top:170.8px;width:6px;height:2px;background:#000"></div>
<div class="a" style="left:9px;top:168.8px;width:2px;height:6px;background:#000"></div>
<div class="pc" style="left:37px;top:180.5px;width:42px;font-weight:bold;"><span class="g" style="width:20.27px;height:18px"><i style="left:0.00px;transform:scaleX(1.039)">030</i></span></div>
<div class="pc" style="left:81px;top:180.5px;width:261px;font-weight:bold;"><span class="g" style="width:56.71px;height:18px"><i style="left:0.00px;transform:scaleX(0.962)">MATERIEL</i></span></div>
<div class="a" style="left:35px;top:198px;width:308px;height:1.3px;background:#cfcfcf"></div>
<div class="a" style="left:2px;top:182px;width:16px;height:15.5px;border:1px solid #adadad;background:#f2f2f2"></div>
<div class="a" style="left:7px;top:188.8px;width:6px;height:2px;background:#000"></div>
<div class="pc" style="left:37px;top:198.5px;width:42px;"><span class="g" style="width:37.15px;height:18px"><i style="left:0.00px;transform:scaleX(1.038)">030.01</i></span></div>
<div class="pc" style="left:81px;top:198.5px;width:261px;"><span class="g" style="width:213.55px;height:18px"><i style="left:0.00px;transform:scaleX(0.948)">ETAIEMENT, ECHAFAUDAGE, SECURITE</i></span></div>
<div class="a" style="left:35px;top:216px;width:308px;height:1.3px;background:#cfcfcf"></div>
<div class="a" style="left:23px;top:206.8px;width:2px;height:2px;background:#a2a2a2"></div>
<div class="pc" style="left:37px;top:216.5px;width:42px;"><span class="g" style="width:37.15px;height:18px"><i style="left:0.00px;transform:scaleX(1.038)">030.03</i></span></div>
<div class="pc" style="left:81px;top:216.5px;width:261px;"><span class="g" style="width:64.93px;height:18px"><i style="left:0.00px;transform:scaleX(0.892)">COFFRAGES</i></span></div>
<div class="a" style="left:35px;top:234px;width:308px;height:1.3px;background:#cfcfcf"></div>
<div class="a" style="left:23px;top:224.8px;width:2px;height:2px;background:#a2a2a2"></div>
<div class="pc" style="left:37px;top:234.5px;width:42px;"><span class="g" style="width:37.15px;height:18px"><i style="left:0.00px;transform:scaleX(1.038)">030.05</i></span></div>
<div class="pc" style="left:81px;top:234.5px;width:261px;"><span class="g" style="width:99.57px;height:18px"><i style="left:0.00px;transform:scaleX(0.932)">ACHAT COFFRAGE</i></span></div>
<div class="a" style="left:35px;top:252px;width:308px;height:1.3px;background:#cfcfcf"></div>
<div class="a" style="left:23px;top:242.8px;width:2px;height:2px;background:#a2a2a2"></div>
<div class="pc" style="left:37px;top:252.5px;width:42px;"><span class="g" style="width:37.15px;height:18px"><i style="left:0.00px;transform:scaleX(1.038)">030.07</i></span></div>
<div class="pc" style="left:81px;top:252.5px;width:261px;"><span class="g" style="width:144.48px;height:18px"><i style="left:0.00px;transform:scaleX(0.955)">EQUIPAGE, HYDRAULIQUE</i></span></div>
<div class="a" style="left:35px;top:270px;width:308px;height:1.3px;background:#cfcfcf"></div>
<div class="a" style="left:23px;top:260.8px;width:2px;height:2px;background:#a2a2a2"></div>
<div class="pc" style="left:37px;top:270.5px;width:42px;"><span class="g" style="width:37.15px;height:18px"><i style="left:0.00px;transform:scaleX(1.038)">030.09</i></span></div>
<div class="pc" style="left:81px;top:270.5px;width:261px;"><span class="g" style="width:227.44px;height:18px"><i style="left:0.00px;transform:scaleX(0.944)">GRUE AUTOMOTRICE, GRUE A CHENILLES</i></span></div>
<div class="a" style="left:35px;top:288px;width:308px;height:1.3px;background:#cfcfcf"></div>
<div class="a" style="left:23px;top:278.8px;width:2px;height:2px;background:#a2a2a2"></div>
<div class="pc" style="left:37px;top:288.5px;width:42px;"><span class="g" style="width:37.15px;height:18px"><i style="left:0.00px;transform:scaleX(1.064)">030.11</i></span></div>
<div class="pc" style="left:81px;top:288.5px;width:261px;"><span class="g" style="width:76.47px;height:18px"><i style="left:0.00px;transform:scaleX(0.961)">GRUE A TOUR</i></span></div>
<div class="a" style="left:35px;top:306px;width:308px;height:1.3px;background:#cfcfcf"></div>
<div class="a" style="left:23px;top:296.8px;width:2px;height:2px;background:#a2a2a2"></div>
<div class="pc" style="left:37px;top:306.5px;width:42px;"><span class="g" style="width:37.15px;height:18px"><i style="left:0.00px;transform:scaleX(1.038)">030.13</i></span></div>
<div class="pc" style="left:81px;top:306.5px;width:261px;"><span class="g" style="width:196.25px;height:18px"><i style="left:0.00px;transform:scaleX(0.953)">LEVAGE, MANUTENTION, NACELLES</i></span></div>
<div class="a" style="left:35px;top:324px;width:308px;height:1.3px;background:#cfcfcf"></div>
<div class="a" style="left:23px;top:314.8px;width:2px;height:2px;background:#a2a2a2"></div>
<div class="pc" style="left:37px;top:324.5px;width:42px;"><span class="g" style="width:37.15px;height:18px"><i style="left:0.00px;transform:scaleX(1.038)">030.15</i></span></div>
<div class="pc" style="left:81px;top:324.5px;width:261px;"><span class="g" style="width:146.20px;height:18px"><i style="left:0.00px;transform:scaleX(0.954)">MATERIEL DE BETONNAGE</i></span></div>
<div class="a" style="left:35px;top:342px;width:308px;height:1.3px;background:#cfcfcf"></div>
<div class="a" style="left:23px;top:332.8px;width:2px;height:2px;background:#a2a2a2"></div>
<div class="a" style="left:34px;top:0;width:1.3px;height:336px;background:#cfcfcf"></div>
<div class="a" style="left:78px;top:0;width:1.3px;height:336px;background:#cfcfcf"></div>
<div class="a" style="left:34.6px;top:233.6px;width:309px;height:2.3px;background:#4c4c4c"></div>
<div class="a" style="left:34.6px;top:251.4px;width:309px;height:2.3px;background:#4c4c4c"></div>
<div class="a" style="left:34.6px;top:233.6px;width:2px;height:20px;background:#4c4c4c"></div>
</div>
<div class="a" style="left:1083px;top:284px;width:1.6px;height:337px;background:#a9acb3"></div>
<div class="a" style="left:1083px;top:284px;width:360px;height:1.6px;background:#a9acb3"></div>
<div class="a" style="left:1082px;top:283px;width:1px;height:339px;background:#5a5a5a"></div>
<div class="a" style="left:1082px;top:283px;width:362px;height:1px;background:#5a5a5a"></div>
</body></html>
